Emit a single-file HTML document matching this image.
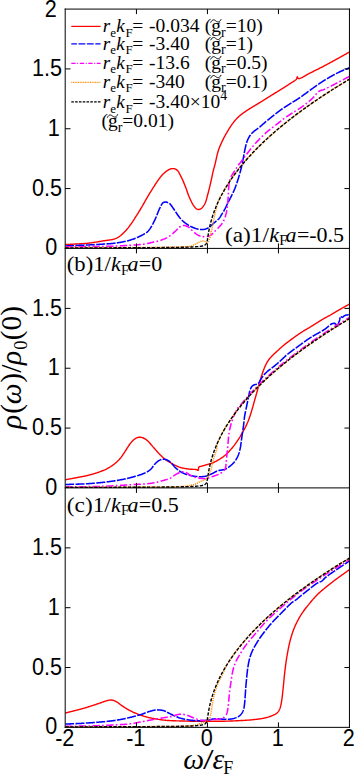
<!DOCTYPE html>
<html><head><meta charset="utf-8"><title>DOS</title>
<style>html,body{margin:0;padding:0;background:#fff;}svg{display:block;}text{font-family:"Liberation Serif",serif;fill:#000;}.s{font-family:"Liberation Sans",sans-serif;}.i{font-style:italic;}</style></head>
<body>
<svg width="354" height="776" viewBox="0 0 354 776">
<defs><clipPath id="clip_a"><rect x="65.45" y="9.08" width="284.00" height="239.62"/></clipPath><clipPath id="clip_b"><rect x="65.45" y="248.40" width="284.00" height="239.80"/></clipPath><clipPath id="clip_c"><rect x="65.45" y="487.90" width="284.00" height="239.75"/></clipPath></defs>
<rect width="354" height="776" fill="#fff"/>
<g clip-path="url(#clip_a)" fill="none" stroke-linejoin="round">
<path d="M65.00 244.60 L65.61 244.57 L66.22 244.53 L66.83 244.50 L67.43 244.47 L68.04 244.44 L68.65 244.41 L69.25 244.37 L69.86 244.34 L70.46 244.31 L71.07 244.28 L71.68 244.24 L72.29 244.21 L72.90 244.18 L73.52 244.14 L74.13 244.11 L74.75 244.07 L75.37 244.04 L76.00 244.00 L76.59 243.97 L77.19 243.93 L77.79 243.90 L78.39 243.87 L78.99 243.84 L79.59 243.81 L80.19 243.78 L80.79 243.75 L81.40 243.72 L82.01 243.68 L82.62 243.65 L83.23 243.61 L83.84 243.57 L84.46 243.53 L85.07 243.49 L85.69 243.44 L86.32 243.39 L86.94 243.33 L87.57 243.27 L88.20 243.20 L88.80 243.13 L89.40 243.06 L90.00 242.99 L90.61 242.91 L91.22 242.83 L91.83 242.74 L92.45 242.65 L93.07 242.56 L93.69 242.47 L94.31 242.37 L94.93 242.27 L95.55 242.17 L96.18 242.07 L96.80 241.97 L97.43 241.86 L98.05 241.76 L98.68 241.65 L99.30 241.54 L99.92 241.44 L100.55 241.33 L101.17 241.22 L101.78 241.11 L102.40 241.00 L103.02 240.89 L103.65 240.80 L104.28 240.70 L104.92 240.61 L105.56 240.53 L106.20 240.44 L106.85 240.36 L107.49 240.28 L108.14 240.19 L108.78 240.11 L109.43 240.01 L110.06 239.92 L110.70 239.82 L111.32 239.71 L111.94 239.59 L112.55 239.46 L113.15 239.32 L113.74 239.17 L114.32 239.00 L114.89 238.83 L115.44 238.63 L115.98 238.42 L116.50 238.19 L117.06 237.92 L117.61 237.62 L118.15 237.31 L118.67 236.97 L119.18 236.63 L119.68 236.27 L120.17 235.89 L120.65 235.51 L121.12 235.11 L121.58 234.71 L122.03 234.30 L122.48 233.89 L122.91 233.48 L123.34 233.06 L123.76 232.64 L124.18 232.23 L124.59 231.82 L125.00 231.41 L125.46 230.95 L125.91 230.47 L126.34 230.00 L126.75 229.52 L127.16 229.04 L127.55 228.56 L127.94 228.07 L128.32 227.57 L128.70 227.08 L129.08 226.57 L129.46 226.06 L129.83 225.55 L130.21 225.03 L130.60 224.50 L130.94 224.03 L131.29 223.55 L131.63 223.06 L131.97 222.57 L132.31 222.08 L132.65 221.58 L132.98 221.07 L133.32 220.56 L133.65 220.05 L133.98 219.54 L134.32 219.03 L134.65 218.51 L134.98 217.99 L135.31 217.47 L135.64 216.96 L135.97 216.44 L136.30 215.92 L136.64 215.40 L136.97 214.87 L137.30 214.34 L137.63 213.81 L137.97 213.28 L138.30 212.75 L138.63 212.21 L138.96 211.68 L139.28 211.14 L139.61 210.60 L139.94 210.06 L140.27 209.52 L140.59 208.98 L140.92 208.43 L141.25 207.88 L141.57 207.33 L141.90 206.78 L142.20 206.27 L142.50 205.75 L142.80 205.23 L143.10 204.70 L143.40 204.17 L143.70 203.64 L144.00 203.11 L144.30 202.57 L144.60 202.04 L144.90 201.50 L145.20 200.97 L145.50 200.43 L145.79 199.90 L146.09 199.37 L146.39 198.84 L146.69 198.32 L147.00 197.79 L147.30 197.28 L147.60 196.76 L147.93 196.21 L148.26 195.67 L148.59 195.12 L148.92 194.57 L149.25 194.03 L149.58 193.48 L149.91 192.94 L150.25 192.40 L150.58 191.87 L150.91 191.34 L151.24 190.81 L151.57 190.28 L151.90 189.76 L152.23 189.24 L152.55 188.72 L152.88 188.22 L153.20 187.71 L153.55 187.16 L153.90 186.62 L154.24 186.08 L154.58 185.54 L154.93 185.01 L155.27 184.48 L155.60 183.95 L155.94 183.44 L156.28 182.92 L156.62 182.41 L156.96 181.91 L157.31 181.41 L157.65 180.92 L158.00 180.43 L158.37 179.91 L158.74 179.39 L159.11 178.88 L159.48 178.37 L159.85 177.87 L160.22 177.37 L160.60 176.88 L160.98 176.40 L161.37 175.93 L161.77 175.47 L162.18 175.02 L162.60 174.58 L163.07 174.11 L163.56 173.64 L164.06 173.17 L164.57 172.72 L165.08 172.27 L165.61 171.84 L166.13 171.43 L166.66 171.04 L167.18 170.68 L167.69 170.35 L168.20 170.05 L168.82 169.72 L169.44 169.42 L170.05 169.16 L170.67 168.93 L171.28 168.76 L171.89 168.65 L172.50 168.60 L173.11 168.61 L173.73 168.66 L174.35 168.76 L174.96 168.92 L175.56 169.15 L176.15 169.44 L176.70 169.80 L177.08 170.12 L177.46 170.50 L177.81 170.93 L178.16 171.40 L178.50 171.91 L178.83 172.44 L179.15 173.01 L179.46 173.59 L179.77 174.19 L180.08 174.79 L180.39 175.39 L180.69 175.99 L181.00 176.58 L181.27 177.09 L181.53 177.61 L181.79 178.14 L182.05 178.68 L182.30 179.22 L182.55 179.78 L182.80 180.34 L183.04 180.90 L183.29 181.47 L183.53 182.05 L183.77 182.63 L184.01 183.21 L184.25 183.80 L184.48 184.38 L184.72 184.97 L184.96 185.56 L185.20 186.15 L185.42 186.69 L185.63 187.25 L185.84 187.80 L186.05 188.37 L186.26 188.94 L186.46 189.51 L186.66 190.09 L186.87 190.67 L187.07 191.25 L187.28 191.84 L187.48 192.42 L187.68 192.99 L187.89 193.57 L188.10 194.14 L188.31 194.70 L188.52 195.26 L188.73 195.81 L188.95 196.35 L189.17 196.89 L189.40 197.41 L189.67 198.01 L189.95 198.63 L190.23 199.24 L190.51 199.85 L190.80 200.46 L191.09 201.06 L191.38 201.65 L191.67 202.23 L191.96 202.80 L192.26 203.34 L192.55 203.87 L192.84 204.38 L193.13 204.86 L193.42 205.31 L193.70 205.74 L194.17 206.40 L194.63 207.01 L195.09 207.56 L195.55 208.06 L196.02 208.48 L196.50 208.84 L197.06 209.16 L197.63 209.40 L198.21 209.54 L198.80 209.56 L199.35 209.46 L199.92 209.26 L200.49 208.97 L201.05 208.61 L201.60 208.19 L202.00 207.82 L202.41 207.40 L202.81 206.94 L203.20 206.44 L203.59 205.91 L203.96 205.34 L204.33 204.75 L204.67 204.13 L205.00 203.50 L205.22 203.02 L205.44 202.53 L205.64 202.01 L205.83 201.47 L206.01 200.92 L206.19 200.35 L206.36 199.77 L206.53 199.18 L206.69 198.58 L206.85 197.98 L207.00 197.36 L207.16 196.75 L207.32 196.13 L207.47 195.52 L207.63 194.90 L207.80 194.29 L207.95 193.73 L208.11 193.16 L208.26 192.58 L208.41 192.00 L208.56 191.42 L208.71 190.83 L208.86 190.24 L209.01 189.65 L209.15 189.05 L209.30 188.45 L209.45 187.85 L209.59 187.25 L209.74 186.64 L209.88 186.03 L210.03 185.42 L210.17 184.81 L210.31 184.20 L210.46 183.59 L210.60 182.97 L210.74 182.38 L210.88 181.77 L211.01 181.15 L211.15 180.53 L211.29 179.89 L211.43 179.25 L211.57 178.61 L211.70 177.96 L211.84 177.32 L211.98 176.68 L212.11 176.04 L212.25 175.40 L212.38 174.78 L212.51 174.16 L212.64 173.55 L212.77 172.96 L212.90 172.38 L213.03 171.82 L213.15 171.28 L213.28 170.76 L213.40 170.26 L213.57 169.60 L213.73 168.99 L213.88 168.42 L214.04 167.89 L214.19 167.36 L214.34 166.84 L214.49 166.30 L214.65 165.73 L214.82 165.11 L215.00 164.43 L215.12 163.96 L215.24 163.47 L215.36 162.96 L215.48 162.43 L215.60 161.88 L215.72 161.32 L215.85 160.74 L215.97 160.15 L216.10 159.55 L216.23 158.94 L216.37 158.32 L216.50 157.70 L216.64 157.07 L216.78 156.44 L216.92 155.82 L217.07 155.19 L217.22 154.56 L217.38 153.94 L217.54 153.33 L217.70 152.72 L217.87 152.12 L218.04 151.53 L218.22 150.96 L218.40 150.40 L218.60 149.81 L218.81 149.21 L219.03 148.62 L219.25 148.03 L219.48 147.44 L219.72 146.85 L219.95 146.27 L220.20 145.69 L220.44 145.11 L220.69 144.54 L220.95 143.97 L221.20 143.41 L221.46 142.85 L221.71 142.29 L221.97 141.75 L222.23 141.20 L222.49 140.67 L222.74 140.14 L223.00 139.62 L223.25 139.11 L223.50 138.60 L223.80 138.01 L224.09 137.43 L224.39 136.87 L224.69 136.31 L224.99 135.76 L225.29 135.22 L225.59 134.68 L225.89 134.15 L226.19 133.63 L226.50 133.12 L226.80 132.60 L227.10 132.10 L227.40 131.60 L227.70 131.10 L228.00 130.60 L228.33 130.05 L228.67 129.50 L229.00 128.97 L229.32 128.43 L229.65 127.91 L229.98 127.39 L230.31 126.88 L230.65 126.37 L230.98 125.87 L231.32 125.37 L231.66 124.88 L232.00 124.40 L232.39 123.87 L232.78 123.34 L233.17 122.82 L233.57 122.31 L233.97 121.80 L234.37 121.30 L234.77 120.81 L235.18 120.33 L235.59 119.86 L236.00 119.40 L236.43 118.93 L236.86 118.48 L237.29 118.03 L237.72 117.59 L238.16 117.17 L238.60 116.74 L239.06 116.33 L239.52 115.91 L240.00 115.50 L240.47 115.11 L240.94 114.73 L241.43 114.36 L241.92 113.98 L242.42 113.62 L242.93 113.25 L243.44 112.89 L243.96 112.53 L244.48 112.16 L245.00 111.80 L245.50 111.45 L246.01 111.11 L246.51 110.77 L247.02 110.43 L247.53 110.09 L248.05 109.75 L248.58 109.41 L249.12 109.06 L249.67 108.72 L250.23 108.36 L250.80 108.00 L251.28 107.70 L251.78 107.39 L252.29 107.08 L252.81 106.77 L253.33 106.46 L253.86 106.14 L254.40 105.82 L254.95 105.50 L255.49 105.18 L256.04 104.85 L256.59 104.53 L257.14 104.20 L257.68 103.88 L258.23 103.55 L258.77 103.22 L259.30 102.90 L259.83 102.57 L260.36 102.25 L260.90 101.92 L261.43 101.59 L261.96 101.26 L262.49 100.93 L263.02 100.59 L263.55 100.26 L264.08 99.93 L264.61 99.60 L265.15 99.26 L265.68 98.93 L266.21 98.60 L266.74 98.26 L267.27 97.93 L267.80 97.60 L268.33 97.27 L268.86 96.94 L269.39 96.61 L269.93 96.27 L270.46 95.94 L270.99 95.61 L271.52 95.28 L272.05 94.95 L272.58 94.61 L273.12 94.28 L273.65 93.95 L274.18 93.62 L274.71 93.29 L275.24 92.96 L275.77 92.63 L276.30 92.30 L276.83 91.97 L277.36 91.64 L277.90 91.31 L278.43 90.98 L278.97 90.65 L279.51 90.32 L280.05 89.99 L280.58 89.66 L281.11 89.33 L281.64 89.01 L282.17 88.68 L282.69 88.36 L283.20 88.04 L283.71 87.72 L284.21 87.41 L284.70 87.10 L285.26 86.74 L285.82 86.38 L286.37 86.03 L286.92 85.67 L287.45 85.32 L287.98 84.98 L288.51 84.63 L289.02 84.29 L289.53 83.96 L290.03 83.63 L290.52 83.31 L291.00 83.00 L291.60 82.61 L292.20 82.23 L292.80 81.85 L293.38 81.48 L293.94 81.12 L294.45 80.79 L294.91 80.48 L295.30 80.20 L295.92 79.77 L296.40 79.30 L296.67 78.67 L296.87 77.84 L297.07 77.12 L297.30 76.80 L297.57 77.21 L297.87 78.03 L298.40 78.60 L298.67 78.64 L299.00 78.63 L299.36 78.57 L299.78 78.46 L300.23 78.30 L300.71 78.11 L301.23 77.87 L301.78 77.61 L302.35 77.32 L302.95 77.01 L303.56 76.67 L304.19 76.32 L304.83 75.96 L305.47 75.58 L306.13 75.21 L306.78 74.83 L307.42 74.46 L308.07 74.10 L308.70 73.75 L309.32 73.41 L309.92 73.09 L310.50 72.80 L311.02 72.54 L311.55 72.28 L312.08 72.02 L312.61 71.76 L313.15 71.50 L313.69 71.23 L314.23 70.96 L314.77 70.69 L315.31 70.43 L315.85 70.15 L316.40 69.88 L316.95 69.61 L317.49 69.34 L318.04 69.06 L318.59 68.78 L319.14 68.51 L319.69 68.23 L320.24 67.95 L320.79 67.67 L321.33 67.39 L321.88 67.11 L322.43 66.83 L322.97 66.55 L323.52 66.27 L324.06 65.98 L324.60 65.70 L325.15 65.41 L325.69 65.12 L326.24 64.83 L326.80 64.54 L327.35 64.24 L327.90 63.94 L328.46 63.64 L329.01 63.34 L329.56 63.04 L330.12 62.74 L330.67 62.43 L331.23 62.13 L331.78 61.83 L332.33 61.52 L332.87 61.22 L333.42 60.92 L333.96 60.62 L334.51 60.32 L335.04 60.02 L335.58 59.73 L336.11 59.43 L336.64 59.14 L337.16 58.85 L337.68 58.56 L338.19 58.28 L338.70 58.00 L339.27 57.68 L339.84 57.37 L340.40 57.06 L340.95 56.76 L341.50 56.45 L342.05 56.15 L342.59 55.85 L343.13 55.55 L343.66 55.25 L344.19 54.96 L344.72 54.66 L345.25 54.37 L345.78 54.07 L346.31 53.78 L346.83 53.48 L347.36 53.19 L347.89 52.89 L348.43 52.60 L348.96 52.30 L349.50 52.00" stroke="#ff0000" stroke-width="1.4"/>
<path d="M65.00 246.00 L65.61 245.97 L66.22 245.94 L66.83 245.91 L67.45 245.88 L68.07 245.85 L68.70 245.82 L69.32 245.80 L69.96 245.77 L70.59 245.74 L71.23 245.71 L71.87 245.68 L72.51 245.65 L73.15 245.62 L73.80 245.59 L74.45 245.56 L75.09 245.54 L75.74 245.51 L76.39 245.48 L77.04 245.45 L77.70 245.42 L78.35 245.39 L79.00 245.36 L79.65 245.33 L80.30 245.31 L80.95 245.28 L81.60 245.25 L82.25 245.22 L82.89 245.19 L83.54 245.16 L84.18 245.13 L84.82 245.10 L85.46 245.07 L86.09 245.05 L86.73 245.02 L87.36 244.99 L87.98 244.96 L88.61 244.93 L89.23 244.90 L89.84 244.87 L90.45 244.84 L91.06 244.81 L91.66 244.78 L92.26 244.75 L92.85 244.72 L93.44 244.69 L94.02 244.66 L94.60 244.64 L95.17 244.61 L95.73 244.58 L96.29 244.55 L96.84 244.52 L97.38 244.49 L97.92 244.46 L98.45 244.43 L98.97 244.39 L99.49 244.36 L99.99 244.33 L100.49 244.30 L100.98 244.27 L101.46 244.24 L101.94 244.21 L102.40 244.18 L103.15 244.13 L103.87 244.08 L104.57 244.04 L105.26 243.99 L105.92 243.95 L106.56 243.91 L107.19 243.87 L107.81 243.83 L108.41 243.79 L109.01 243.74 L109.59 243.70 L110.17 243.66 L110.74 243.61 L111.31 243.56 L111.87 243.51 L112.44 243.46 L113.00 243.40 L113.57 243.34 L114.14 243.27 L114.72 243.20 L115.30 243.12 L115.90 243.04 L116.50 242.96 L117.09 242.87 L117.69 242.78 L118.28 242.68 L118.88 242.59 L119.48 242.49 L120.08 242.39 L120.68 242.29 L121.28 242.18 L121.88 242.08 L122.48 241.96 L123.08 241.85 L123.68 241.73 L124.27 241.61 L124.87 241.48 L125.46 241.36 L126.05 241.22 L126.63 241.08 L127.21 240.94 L127.79 240.80 L128.36 240.65 L128.93 240.49 L129.49 240.33 L130.05 240.17 L130.60 240.00 L131.21 239.80 L131.82 239.60 L132.42 239.39 L133.03 239.17 L133.64 238.94 L134.24 238.71 L134.84 238.47 L135.44 238.22 L136.03 237.97 L136.61 237.72 L137.19 237.47 L137.76 237.21 L138.32 236.96 L138.86 236.70 L139.40 236.44 L139.93 236.19 L140.44 235.94 L140.94 235.69 L141.43 235.44 L141.90 235.20 L142.51 234.89 L143.10 234.58 L143.67 234.28 L144.22 233.99 L144.75 233.69 L145.26 233.39 L145.76 233.08 L146.24 232.76 L146.71 232.42 L147.16 232.06 L147.60 231.68 L148.04 231.25 L148.45 230.81 L148.85 230.36 L149.22 229.89 L149.57 229.40 L149.92 228.90 L150.26 228.39 L150.60 227.85 L150.95 227.30 L151.30 226.74 L151.59 226.26 L151.88 225.76 L152.17 225.25 L152.45 224.73 L152.74 224.20 L153.02 223.65 L153.30 223.10 L153.58 222.53 L153.86 221.96 L154.13 221.39 L154.41 220.81 L154.68 220.22 L154.96 219.63 L155.23 219.05 L155.50 218.46 L155.75 217.91 L155.99 217.35 L156.23 216.78 L156.47 216.19 L156.71 215.59 L156.95 214.99 L157.19 214.39 L157.42 213.78 L157.66 213.17 L157.89 212.57 L158.13 211.97 L158.37 211.38 L158.60 210.81 L158.84 210.24 L159.08 209.69 L159.32 209.16 L159.56 208.65 L159.80 208.16 L160.13 207.50 L160.45 206.84 L160.77 206.18 L161.09 205.53 L161.42 204.92 L161.75 204.34 L162.09 203.81 L162.44 203.34 L162.81 202.95 L163.20 202.63 L163.78 202.32 L164.40 202.14 L165.03 202.05 L165.67 202.05 L166.30 202.11 L166.87 202.22 L167.44 202.40 L168.02 202.63 L168.59 202.93 L169.15 203.29 L169.70 203.70 L170.10 204.06 L170.50 204.47 L170.89 204.93 L171.27 205.43 L171.65 205.96 L172.03 206.51 L172.40 207.07 L172.78 207.64 L173.15 208.20 L173.53 208.76 L173.90 209.30 L174.25 209.80 L174.60 210.32 L174.95 210.84 L175.30 211.37 L175.64 211.90 L175.99 212.43 L176.33 212.95 L176.68 213.48 L177.03 214.00 L177.38 214.51 L177.74 215.01 L178.10 215.50 L178.47 215.99 L178.85 216.48 L179.22 216.97 L179.59 217.45 L179.97 217.92 L180.35 218.38 L180.74 218.84 L181.14 219.29 L181.55 219.74 L181.97 220.17 L182.40 220.60 L182.86 221.03 L183.34 221.46 L183.83 221.88 L184.33 222.29 L184.84 222.70 L185.36 223.09 L185.88 223.48 L186.41 223.85 L186.94 224.21 L187.47 224.56 L188.00 224.90 L188.55 225.24 L189.11 225.56 L189.68 225.87 L190.25 226.17 L190.82 226.45 L191.39 226.73 L191.97 226.99 L192.54 227.24 L193.12 227.49 L193.70 227.72 L194.32 227.96 L194.93 228.19 L195.55 228.42 L196.17 228.63 L196.79 228.83 L197.42 229.00 L198.04 229.16 L198.67 229.29 L199.30 229.38 L199.93 229.45 L200.58 229.51 L201.23 229.54 L201.88 229.54 L202.53 229.53 L203.18 229.49 L203.80 229.42 L204.41 229.32 L205.00 229.20 L205.65 229.02 L206.28 228.79 L206.88 228.53 L207.47 228.24 L208.05 227.92 L208.63 227.57 L209.20 227.20 L209.68 226.86 L210.15 226.50 L210.61 226.11 L211.06 225.70 L211.51 225.27 L211.97 224.84 L212.43 224.39 L212.91 223.95 L213.40 223.50 L213.85 223.11 L214.33 222.71 L214.82 222.30 L215.33 221.88 L215.84 221.46 L216.35 221.03 L216.86 220.60 L217.36 220.17 L217.83 219.74 L218.29 219.30 L218.71 218.87 L219.10 218.43 L219.53 217.89 L219.92 217.35 L220.28 216.81 L220.61 216.26 L220.93 215.71 L221.24 215.16 L221.56 214.60 L221.90 214.04 L222.21 213.54 L222.53 213.05 L222.84 212.55 L223.15 212.06 L223.46 211.55 L223.77 211.04 L224.08 210.52 L224.39 209.98 L224.70 209.42 L224.97 208.91 L225.25 208.38 L225.52 207.84 L225.79 207.29 L226.06 206.73 L226.33 206.16 L226.60 205.58 L226.87 205.00 L227.15 204.42 L227.43 203.83 L227.71 203.25 L228.00 202.67 L228.27 202.13 L228.54 201.59 L228.83 201.04 L229.11 200.49 L229.40 199.93 L229.69 199.37 L229.98 198.81 L230.27 198.25 L230.56 197.70 L230.84 197.15 L231.12 196.60 L231.39 196.07 L231.65 195.55 L231.90 195.03 L232.19 194.44 L232.47 193.87 L232.74 193.31 L233.00 192.75 L233.26 192.21 L233.51 191.66 L233.76 191.11 L234.01 190.55 L234.25 189.99 L234.50 189.40 L234.72 188.86 L234.94 188.32 L235.15 187.77 L235.36 187.22 L235.57 186.66 L235.78 186.10 L235.98 185.53 L236.19 184.95 L236.39 184.37 L236.59 183.79 L236.80 183.20 L237.00 182.60 L237.19 182.03 L237.38 181.45 L237.58 180.86 L237.77 180.27 L237.96 179.67 L238.15 179.07 L238.34 178.47 L238.52 177.86 L238.71 177.25 L238.89 176.64 L239.07 176.02 L239.25 175.41 L239.43 174.81 L239.60 174.20 L239.77 173.60 L239.94 173.00 L240.10 172.40 L240.27 171.80 L240.43 171.21 L240.59 170.61 L240.75 170.01 L240.90 169.41 L241.06 168.80 L241.21 168.19 L241.36 167.58 L241.51 166.96 L241.65 166.33 L241.80 165.70 L241.93 165.12 L242.05 164.54 L242.18 163.95 L242.30 163.35 L242.42 162.74 L242.54 162.14 L242.66 161.52 L242.78 160.91 L242.89 160.30 L243.01 159.68 L243.12 159.07 L243.23 158.46 L243.35 157.86 L243.46 157.26 L243.57 156.66 L243.69 156.08 L243.80 155.50 L243.92 154.87 L244.05 154.23 L244.17 153.60 L244.28 152.97 L244.40 152.34 L244.52 151.72 L244.64 151.10 L244.75 150.49 L244.87 149.88 L244.99 149.29 L245.11 148.70 L245.24 148.12 L245.37 147.56 L245.50 147.00 L245.66 146.36 L245.81 145.74 L245.96 145.13 L246.12 144.53 L246.28 143.94 L246.44 143.36 L246.61 142.79 L246.80 142.22 L246.99 141.66 L247.20 141.10 L247.43 140.50 L247.68 139.91 L247.93 139.32 L248.19 138.74 L248.47 138.16 L248.75 137.60 L249.06 137.05 L249.37 136.52 L249.70 136.00 L250.07 135.47 L250.45 134.96 L250.84 134.46 L251.25 133.98 L251.68 133.51 L252.13 133.04 L252.60 132.58 L253.10 132.10 L253.53 131.72 L253.98 131.34 L254.46 130.96 L254.95 130.59 L255.46 130.22 L255.98 129.84 L256.51 129.47 L257.04 129.09 L257.57 128.72 L258.09 128.33 L258.60 127.94 L259.10 127.55 L259.56 127.17 L260.01 126.79 L260.45 126.40 L260.89 126.02 L261.33 125.63 L261.77 125.23 L262.21 124.84 L262.66 124.44 L263.11 124.04 L263.56 123.63 L264.03 123.22 L264.51 122.81 L265.00 122.39 L265.43 122.03 L265.86 121.67 L266.31 121.30 L266.76 120.93 L267.21 120.56 L267.68 120.18 L268.14 119.80 L268.62 119.41 L269.09 119.03 L269.57 118.64 L270.05 118.26 L270.53 117.87 L271.01 117.49 L271.49 117.11 L271.97 116.73 L272.45 116.35 L272.93 115.97 L273.40 115.60 L273.90 115.21 L274.39 114.82 L274.89 114.43 L275.39 114.03 L275.88 113.64 L276.38 113.25 L276.88 112.86 L277.38 112.47 L277.88 112.09 L278.38 111.70 L278.88 111.32 L279.38 110.94 L279.88 110.56 L280.38 110.19 L280.89 109.82 L281.39 109.46 L281.90 109.10 L282.42 108.73 L282.95 108.38 L283.47 108.02 L284.00 107.67 L284.52 107.33 L285.05 106.99 L285.57 106.65 L286.10 106.31 L286.63 105.98 L287.16 105.64 L287.70 105.31 L288.23 104.97 L288.77 104.63 L289.31 104.29 L289.85 103.95 L290.40 103.60 L290.92 103.27 L291.44 102.94 L291.96 102.61 L292.49 102.29 L293.02 101.96 L293.55 101.63 L294.08 101.30 L294.61 100.97 L295.15 100.64 L295.68 100.31 L296.22 99.97 L296.76 99.63 L297.30 99.29 L297.84 98.94 L298.38 98.59 L298.92 98.24 L299.46 97.88 L300.00 97.52 L300.49 97.18 L300.98 96.84 L301.47 96.50 L301.96 96.15 L302.45 95.80 L302.93 95.44 L303.42 95.09 L303.91 94.73 L304.40 94.37 L304.89 94.01 L305.38 93.64 L305.87 93.27 L306.37 92.90 L306.87 92.53 L307.37 92.16 L307.88 91.78 L308.39 91.41 L308.91 91.03 L309.43 90.65 L309.96 90.27 L310.50 89.89 L310.97 89.56 L311.44 89.22 L311.92 88.88 L312.40 88.54 L312.88 88.19 L313.37 87.85 L313.86 87.49 L314.36 87.14 L314.86 86.78 L315.36 86.43 L315.86 86.07 L316.37 85.71 L316.88 85.35 L317.39 84.99 L317.90 84.64 L318.41 84.28 L318.93 83.92 L319.44 83.57 L319.96 83.21 L320.48 82.86 L320.99 82.52 L321.51 82.17 L322.03 81.83 L322.54 81.49 L323.06 81.16 L323.57 80.83 L324.09 80.50 L324.60 80.18 L325.14 79.85 L325.68 79.52 L326.22 79.19 L326.76 78.87 L327.31 78.54 L327.86 78.22 L328.41 77.89 L328.96 77.57 L329.51 77.25 L330.06 76.94 L330.62 76.62 L331.17 76.31 L331.72 76.01 L332.27 75.70 L332.82 75.40 L333.37 75.10 L333.92 74.81 L334.46 74.52 L335.00 74.23 L335.54 73.95 L336.08 73.67 L336.61 73.40 L337.14 73.13 L337.66 72.87 L338.18 72.61 L338.70 72.36 L339.29 72.07 L339.88 71.80 L340.47 71.53 L341.05 71.27 L341.62 71.02 L342.19 70.78 L342.76 70.54 L343.33 70.30 L343.89 70.07 L344.45 69.84 L345.01 69.62 L345.57 69.40 L346.13 69.17 L346.69 68.95 L347.25 68.73 L347.81 68.50 L348.37 68.27 L348.93 68.04 L349.50 67.80" stroke="#0000ff" stroke-width="1.55" stroke-dasharray="9.0 1.4"/>
<path d="M65.00 246.90 L65.61 246.89 L66.22 246.88 L66.83 246.87 L67.44 246.86 L68.05 246.85 L68.67 246.84 L69.29 246.83 L69.91 246.82 L70.53 246.82 L71.15 246.81 L71.78 246.80 L72.40 246.79 L73.03 246.78 L73.66 246.78 L74.29 246.77 L74.92 246.76 L75.55 246.75 L76.18 246.75 L76.81 246.74 L77.44 246.73 L78.08 246.73 L78.71 246.72 L79.35 246.71 L79.98 246.71 L80.62 246.70 L81.25 246.69 L81.89 246.69 L82.53 246.68 L83.16 246.67 L83.80 246.67 L84.43 246.66 L85.07 246.65 L85.71 246.65 L86.34 246.64 L86.98 246.63 L87.61 246.63 L88.24 246.62 L88.88 246.61 L89.51 246.60 L90.14 246.60 L90.77 246.59 L91.40 246.58 L92.03 246.58 L92.66 246.57 L93.28 246.56 L93.91 246.55 L94.53 246.54 L95.15 246.54 L95.77 246.53 L96.39 246.52 L97.01 246.51 L97.63 246.50 L98.24 246.49 L98.85 246.48 L99.46 246.47 L100.07 246.46 L100.68 246.45 L101.28 246.44 L101.88 246.43 L102.48 246.42 L103.08 246.40 L103.68 246.39 L104.27 246.38 L104.86 246.37 L105.44 246.35 L106.03 246.34 L106.61 246.33 L107.19 246.31 L107.76 246.30 L108.34 246.28 L108.90 246.27 L109.47 246.25 L110.03 246.23 L110.59 246.22 L111.15 246.20 L111.70 246.18 L112.25 246.16 L112.79 246.15 L113.34 246.13 L113.87 246.11 L114.41 246.09 L114.94 246.07 L115.46 246.04 L115.98 246.02 L116.50 246.00 L117.19 245.97 L117.88 245.94 L118.57 245.91 L119.27 245.87 L119.96 245.84 L120.65 245.81 L121.34 245.77 L122.03 245.74 L122.72 245.71 L123.41 245.67 L124.10 245.63 L124.78 245.60 L125.46 245.56 L126.14 245.52 L126.81 245.49 L127.48 245.45 L128.15 245.41 L128.81 245.37 L129.47 245.33 L130.12 245.29 L130.77 245.25 L131.41 245.21 L132.05 245.16 L132.68 245.12 L133.30 245.08 L133.92 245.04 L134.53 244.99 L135.13 244.95 L135.72 244.90 L136.31 244.86 L136.89 244.81 L137.45 244.76 L138.01 244.72 L138.56 244.67 L139.10 244.62 L139.63 244.57 L140.15 244.52 L140.66 244.47 L141.16 244.42 L141.64 244.37 L142.12 244.32 L142.58 244.27 L143.03 244.22 L143.47 244.16 L143.89 244.11 L144.30 244.05 L144.70 244.00 L145.47 243.88 L146.18 243.77 L146.82 243.65 L147.41 243.53 L147.97 243.40 L148.51 243.27 L149.04 243.15 L149.57 243.01 L150.11 242.88 L150.69 242.74 L151.30 242.60 L151.88 242.47 L152.46 242.35 L153.06 242.23 L153.66 242.10 L154.27 241.98 L154.88 241.85 L155.50 241.72 L156.12 241.58 L156.74 241.44 L157.36 241.29 L157.98 241.14 L158.59 240.97 L159.20 240.79 L159.80 240.60 L160.37 240.41 L160.94 240.22 L161.52 240.01 L162.10 239.81 L162.67 239.60 L163.24 239.38 L163.82 239.15 L164.38 238.91 L164.95 238.67 L165.51 238.42 L166.06 238.15 L166.61 237.88 L167.15 237.60 L167.68 237.31 L168.20 237.00 L168.72 236.68 L169.23 236.34 L169.74 235.98 L170.24 235.61 L170.74 235.22 L171.23 234.83 L171.72 234.43 L172.20 234.02 L172.67 233.62 L173.13 233.21 L173.59 232.81 L174.03 232.41 L174.47 232.02 L174.89 231.64 L175.30 231.27 L175.82 230.78 L176.31 230.28 L176.77 229.78 L177.22 229.28 L177.66 228.80 L178.10 228.34 L178.55 227.90 L179.01 227.51 L179.50 227.15 L180.09 226.78 L180.69 226.43 L181.31 226.11 L181.93 225.83 L182.56 225.61 L183.18 225.47 L183.80 225.40 L184.40 225.42 L185.01 225.52 L185.62 225.69 L186.23 225.92 L186.83 226.18 L187.42 226.48 L188.00 226.80 L188.50 227.11 L188.99 227.47 L189.47 227.87 L189.95 228.29 L190.42 228.73 L190.89 229.18 L191.36 229.63 L191.83 230.08 L192.30 230.50 L192.77 230.92 L193.23 231.35 L193.69 231.79 L194.15 232.23 L194.61 232.66 L195.07 233.08 L195.54 233.48 L196.02 233.86 L196.50 234.20 L197.07 234.57 L197.65 234.91 L198.23 235.23 L198.82 235.52 L199.42 235.78 L200.05 236.01 L200.70 236.20 L201.29 236.34 L201.91 236.46 L202.55 236.55 L203.21 236.62 L203.87 236.66 L204.53 236.69 L205.18 236.68 L205.80 236.65 L206.40 236.60 L207.04 236.51 L207.67 236.40 L208.28 236.26 L208.87 236.08 L209.46 235.87 L210.03 235.61 L210.60 235.30 L211.11 234.97 L211.60 234.58 L212.08 234.14 L212.56 233.67 L213.03 233.18 L213.50 232.68 L213.96 232.17 L214.43 231.68 L214.90 231.20 L215.37 230.74 L215.85 230.29 L216.32 229.84 L216.79 229.39 L217.26 228.93 L217.73 228.47 L218.19 227.99 L218.65 227.51 L219.10 227.00 L219.50 226.54 L219.91 226.08 L220.31 225.62 L220.72 225.15 L221.12 224.66 L221.51 224.17 L221.90 223.67 L222.27 223.15 L222.63 222.62 L222.98 222.07 L223.30 221.50 L223.57 220.98 L223.83 220.45 L224.08 219.90 L224.31 219.34 L224.54 218.76 L224.76 218.17 L224.96 217.58 L225.16 216.98 L225.36 216.37 L225.54 215.76 L225.71 215.14 L225.88 214.53 L226.04 213.91 L226.20 213.30 L226.34 212.70 L226.47 212.10 L226.60 211.49 L226.71 210.87 L226.81 210.25 L226.91 209.63 L227.00 209.01 L227.09 208.38 L227.17 207.75 L227.25 207.12 L227.32 206.49 L227.39 205.87 L227.46 205.24 L227.53 204.62 L227.60 204.00 L227.67 203.39 L227.73 202.79 L227.79 202.18 L227.84 201.57 L227.89 200.96 L227.94 200.35 L227.99 199.74 L228.03 199.13 L228.07 198.53 L228.11 197.93 L228.15 197.33 L228.19 196.74 L228.23 196.15 L228.26 195.57 L228.30 195.00 L228.34 194.36 L228.37 193.73 L228.41 193.10 L228.43 192.48 L228.46 191.86 L228.49 191.25 L228.52 190.65 L228.55 190.05 L228.58 189.45 L228.61 188.86 L228.65 188.28 L228.70 187.70 L228.76 187.01 L228.81 186.33 L228.87 185.67 L228.93 185.00 L228.99 184.35 L229.07 183.70 L229.16 183.06 L229.27 182.43 L229.40 181.80 L229.56 181.13 L229.73 180.47 L229.92 179.82 L230.13 179.17 L230.35 178.54 L230.59 177.91 L230.84 177.30 L231.10 176.70 L231.36 176.15 L231.64 175.63 L231.93 175.13 L232.23 174.63 L232.55 174.13 L232.88 173.62 L233.23 173.08 L233.60 172.50 L233.88 172.05 L234.18 171.58 L234.49 171.09 L234.82 170.59 L235.15 170.07 L235.49 169.55 L235.84 169.01 L236.19 168.48 L236.55 167.94 L236.91 167.40 L237.27 166.86 L237.63 166.33 L237.99 165.81 L238.35 165.30 L238.70 164.80 L239.06 164.30 L239.42 163.81 L239.78 163.32 L240.14 162.84 L240.51 162.36 L240.87 161.89 L241.24 161.41 L241.60 160.94 L241.97 160.47 L242.34 160.00 L242.70 159.53 L243.07 159.06 L243.44 158.58 L243.80 158.10 L244.16 157.62 L244.53 157.13 L244.89 156.64 L245.26 156.15 L245.62 155.66 L245.98 155.17 L246.34 154.68 L246.71 154.19 L247.07 153.71 L247.43 153.22 L247.80 152.74 L248.17 152.25 L248.53 151.78 L248.90 151.30 L249.29 150.81 L249.67 150.31 L250.05 149.83 L250.43 149.34 L250.81 148.86 L251.19 148.38 L251.57 147.90 L251.96 147.42 L252.35 146.94 L252.75 146.46 L253.16 145.98 L253.58 145.49 L254.00 145.00 L254.39 144.55 L254.79 144.10 L255.20 143.65 L255.61 143.19 L256.03 142.73 L256.45 142.27 L256.88 141.81 L257.31 141.35 L257.75 140.89 L258.18 140.43 L258.62 139.97 L259.06 139.52 L259.50 139.07 L259.93 138.62 L260.37 138.18 L260.80 137.75 L261.24 137.31 L261.68 136.87 L262.11 136.44 L262.54 136.02 L262.98 135.60 L263.41 135.18 L263.84 134.76 L264.28 134.34 L264.72 133.93 L265.17 133.52 L265.62 133.11 L266.08 132.69 L266.54 132.28 L267.02 131.87 L267.50 131.45 L267.95 131.07 L268.41 130.69 L268.88 130.30 L269.36 129.92 L269.84 129.54 L270.33 129.16 L270.82 128.78 L271.32 128.40 L271.82 128.02 L272.32 127.64 L272.82 127.26 L273.33 126.88 L273.83 126.51 L274.33 126.13 L274.83 125.75 L275.32 125.38 L275.81 125.00 L276.30 124.62 L276.80 124.24 L277.30 123.85 L277.79 123.46 L278.28 123.06 L278.78 122.67 L279.27 122.28 L279.76 121.89 L280.25 121.50 L280.74 121.11 L281.23 120.73 L281.72 120.34 L282.22 119.96 L282.71 119.58 L283.20 119.21 L283.70 118.83 L284.20 118.46 L284.70 118.10 L285.19 117.74 L285.69 117.39 L286.20 117.04 L286.70 116.69 L287.21 116.34 L287.72 116.00 L288.22 115.65 L288.73 115.31 L289.24 114.98 L289.75 114.64 L290.25 114.31 L290.75 113.98 L291.25 113.66 L291.75 113.34 L292.24 113.02 L292.72 112.71 L293.20 112.40 L293.74 112.06 L294.27 111.73 L294.79 111.41 L295.30 111.11 L295.81 110.81 L296.31 110.51 L296.82 110.21 L297.33 109.91 L297.84 109.60 L298.36 109.28 L298.89 108.94 L299.44 108.58 L300.00 108.20 L300.44 107.89 L300.90 107.57 L301.37 107.24 L301.85 106.89 L302.35 106.54 L302.85 106.17 L303.36 105.80 L303.87 105.42 L304.39 105.03 L304.91 104.64 L305.42 104.25 L305.94 103.86 L306.45 103.46 L306.95 103.07 L307.44 102.68 L307.93 102.30 L308.40 101.92 L308.85 101.55 L309.29 101.18 L309.72 100.83 L310.12 100.48 L310.50 100.15 L311.05 99.66 L311.57 99.18 L312.06 98.71 L312.53 98.24 L312.98 97.79 L313.41 97.34 L313.83 96.90 L314.23 96.46 L314.62 96.03 L315.00 95.60 L315.42 95.09 L315.80 94.58 L316.16 94.07 L316.51 93.57 L316.86 93.10 L317.22 92.67 L317.60 92.29 L318.16 91.83 L318.73 91.46 L319.33 91.13 L320.00 90.80 L320.48 90.59 L320.98 90.41 L321.50 90.24 L322.05 90.08 L322.63 89.90 L323.25 89.71 L323.90 89.48 L324.60 89.20 L325.01 89.02 L325.44 88.83 L325.90 88.62 L326.38 88.40 L326.87 88.17 L327.38 87.92 L327.91 87.66 L328.45 87.40 L329.00 87.12 L329.57 86.84 L330.14 86.55 L330.72 86.25 L331.30 85.95 L331.89 85.65 L332.49 85.35 L333.08 85.04 L333.67 84.73 L334.26 84.42 L334.85 84.12 L335.43 83.81 L336.00 83.51 L336.56 83.22 L337.12 82.93 L337.66 82.64 L338.19 82.37 L338.70 82.10 L339.27 81.80 L339.84 81.50 L340.40 81.21 L340.96 80.91 L341.51 80.62 L342.05 80.33 L342.59 80.04 L343.13 79.75 L343.66 79.46 L344.20 79.17 L344.72 78.89 L345.25 78.60 L345.78 78.31 L346.31 78.03 L346.84 77.74 L347.36 77.45 L347.89 77.17 L348.43 76.88 L348.96 76.59 L349.50 76.30" stroke="#ff00ff" stroke-width="1.55" stroke-dasharray="7.4 2.2 1.7 2.4"/>
<path d="M65.00 247.60 L65.60 247.60 L66.21 247.60 L66.82 247.60 L67.43 247.59 L68.04 247.59 L68.65 247.59 L69.27 247.59 L69.89 247.59 L70.51 247.59 L71.13 247.59 L71.75 247.59 L72.38 247.59 L73.00 247.58 L73.63 247.58 L74.26 247.58 L74.89 247.58 L75.52 247.58 L76.16 247.58 L76.79 247.58 L77.43 247.58 L78.07 247.58 L78.71 247.58 L79.35 247.58 L79.99 247.58 L80.63 247.57 L81.27 247.57 L81.92 247.57 L82.56 247.57 L83.21 247.57 L83.86 247.57 L84.50 247.57 L85.15 247.57 L85.80 247.57 L86.45 247.57 L87.10 247.57 L87.75 247.57 L88.40 247.57 L89.06 247.57 L89.71 247.57 L90.36 247.57 L91.01 247.57 L91.67 247.57 L92.32 247.57 L92.97 247.56 L93.63 247.56 L94.28 247.56 L94.94 247.56 L95.59 247.56 L96.24 247.56 L96.90 247.56 L97.55 247.56 L98.21 247.56 L98.86 247.56 L99.51 247.56 L100.16 247.56 L100.82 247.56 L101.47 247.56 L102.12 247.56 L102.77 247.56 L103.42 247.56 L104.07 247.56 L104.72 247.56 L105.37 247.56 L106.02 247.55 L106.66 247.55 L107.31 247.55 L107.96 247.55 L108.60 247.55 L109.24 247.55 L109.88 247.55 L110.53 247.55 L111.17 247.55 L111.81 247.55 L112.44 247.55 L113.08 247.55 L113.71 247.55 L114.35 247.55 L114.98 247.54 L115.61 247.54 L116.24 247.54 L116.87 247.54 L117.50 247.54 L118.12 247.54 L118.74 247.54 L119.37 247.54 L119.99 247.54 L120.60 247.54 L121.22 247.53 L121.83 247.53 L122.45 247.53 L123.06 247.53 L123.66 247.53 L124.27 247.53 L124.87 247.53 L125.48 247.52 L126.07 247.52 L126.67 247.52 L127.27 247.52 L127.86 247.52 L128.45 247.52 L129.04 247.52 L129.62 247.51 L130.21 247.51 L130.79 247.51 L131.36 247.51 L131.94 247.51 L132.51 247.50 L133.08 247.50 L133.64 247.50 L134.21 247.50 L134.77 247.50 L135.33 247.49 L135.88 247.49 L136.43 247.49 L136.98 247.49 L137.53 247.48 L138.07 247.48 L138.61 247.48 L139.14 247.48 L139.68 247.47 L140.20 247.47 L140.73 247.47 L141.25 247.46 L141.77 247.46 L142.29 247.46 L142.80 247.46 L143.30 247.45 L143.81 247.45 L144.31 247.45 L144.80 247.44 L145.30 247.44 L145.79 247.44 L146.27 247.43 L146.75 247.43 L147.23 247.42 L147.70 247.42 L148.17 247.42 L148.63 247.41 L149.09 247.41 L149.55 247.40 L150.00 247.40 L150.75 247.39 L151.49 247.39 L152.23 247.38 L152.96 247.37 L153.69 247.36 L154.41 247.36 L155.13 247.35 L155.84 247.34 L156.54 247.34 L157.24 247.33 L157.93 247.32 L158.61 247.31 L159.29 247.31 L159.96 247.30 L160.63 247.29 L161.29 247.28 L161.95 247.28 L162.59 247.27 L163.24 247.26 L163.87 247.25 L164.50 247.24 L165.13 247.24 L165.74 247.23 L166.36 247.22 L166.96 247.21 L167.56 247.20 L168.15 247.19 L168.74 247.18 L169.32 247.17 L169.89 247.16 L170.46 247.15 L171.02 247.14 L171.57 247.13 L172.12 247.12 L172.66 247.11 L173.20 247.10 L173.73 247.09 L174.25 247.07 L174.77 247.06 L175.27 247.05 L175.78 247.04 L176.27 247.02 L176.76 247.01 L177.24 246.99 L177.72 246.98 L178.19 246.96 L178.65 246.95 L179.11 246.93 L179.56 246.92 L180.00 246.90 L180.78 246.87 L181.54 246.85 L182.27 246.83 L182.97 246.82 L183.66 246.80 L184.33 246.79 L184.97 246.77 L185.59 246.75 L186.20 246.73 L186.79 246.70 L187.36 246.66 L187.92 246.61 L188.46 246.55 L188.98 246.48 L189.50 246.40 L190.00 246.30 L190.66 246.14 L191.27 245.96 L191.84 245.76 L192.38 245.54 L192.91 245.32 L193.43 245.08 L193.96 244.84 L194.50 244.60 L195.07 244.34 L195.64 244.07 L196.22 243.78 L196.79 243.49 L197.36 243.20 L197.92 242.92 L198.47 242.65 L199.00 242.40 L199.60 242.12 L200.19 241.83 L200.76 241.55 L201.32 241.30 L201.87 241.11 L202.40 241.00 L203.20 240.97 L203.96 241.09 L204.70 241.30 L205.27 241.63 L205.83 242.10 L206.38 242.49 L206.90 242.60 L207.32 242.40 L207.73 242.01 L208.13 241.48 L208.51 240.85 L208.87 240.17 L209.20 239.50 L209.42 239.00 L209.62 238.47 L209.80 237.90 L209.97 237.30 L210.13 236.69 L210.28 236.05 L210.42 235.40 L210.56 234.75 L210.71 234.09 L210.85 233.44 L211.00 232.80 L211.14 232.22 L211.28 231.62 L211.41 231.03 L211.55 230.42 L211.68 229.81 L211.81 229.20 L211.94 228.59 L212.07 227.97 L212.19 227.36 L212.32 226.74 L212.45 226.13 L212.57 225.51 L212.70 224.90 L212.83 224.29 L212.95 223.68 L213.07 223.07 L213.19 222.46 L213.30 221.85 L213.42 221.24 L213.54 220.62 L213.66 220.01 L213.78 219.40 L213.90 218.78 L214.03 218.16 L214.16 217.53 L214.30 216.90 L214.43 216.31 L214.57 215.72 L214.70 215.12 L214.84 214.52 L214.99 213.91 L215.13 213.30 L215.28 212.70 L215.43 212.09 L215.58 211.48 L215.73 210.87 L215.88 210.27 L216.04 209.67 L216.19 209.07 L216.35 208.48 L216.50 207.90 L216.67 207.27 L216.83 206.63 L216.99 205.99 L217.16 205.35 L217.32 204.72 L217.48 204.09 L217.65 203.46 L217.83 202.85 L218.00 202.25 L218.19 201.66 L218.38 201.09 L218.59 200.53 L218.80 200.00 L219.07 199.40 L219.35 198.83 L219.65 198.29 L219.95 197.76 L220.26 197.25 L220.57 196.74 L220.89 196.24 L221.20 195.73 L221.50 195.20 L223.45 191.58 L225.45 188.14 L227.45 184.88 L229.45 181.78 L231.45 178.82 L233.45 175.98 L235.45 173.25 L237.45 170.61 L239.45 168.06 L241.45 165.59 L243.45 163.19 L245.45 160.85 L247.45 158.58 L249.45 156.36 L251.45 154.20 L253.45 152.08 L255.45 150.01 L257.45 147.98 L259.45 145.99 L261.45 144.04 L263.45 142.13 L265.45 140.25 L267.45 138.40 L269.45 136.58 L271.45 134.79 L273.45 133.03 L275.45 131.29 L277.45 129.58 L279.45 127.90 L281.45 126.24 L283.45 124.60 L285.45 122.98 L287.45 121.38 L289.45 119.80 L291.45 118.24 L293.45 116.70 L295.45 115.18 L297.45 113.68 L299.45 112.19 L301.45 110.71 L303.45 109.26 L305.45 107.82 L307.45 106.39 L309.45 104.98 L311.45 103.58 L313.45 102.19 L315.45 100.82 L317.45 99.46 L319.45 98.11 L321.45 96.77 L323.45 95.45 L325.45 94.14 L327.45 92.83 L329.45 91.54 L331.45 90.26 L333.45 88.99 L335.45 87.73 L337.45 86.48 L339.45 85.24 L341.45 84.01 L343.45 82.79 L345.45 81.58 L347.45 80.37 L349.45 79.17 L349.45 79.17" stroke="#ff8c00" stroke-width="1.5" stroke-dasharray="1.1 1.0"/>
<path d="M65.45 247.93 L67.45 247.93 L69.45 247.93 L71.45 247.92 L73.45 247.92 L75.45 247.92 L77.45 247.91 L79.45 247.91 L81.45 247.91 L83.45 247.90 L85.45 247.90 L87.45 247.89 L89.45 247.89 L91.45 247.89 L93.45 247.88 L95.45 247.88 L97.45 247.87 L99.45 247.87 L101.45 247.86 L103.45 247.86 L105.45 247.85 L107.45 247.85 L109.45 247.84 L111.45 247.83 L113.45 247.83 L115.45 247.82 L117.45 247.82 L119.45 247.81 L121.45 247.80 L123.45 247.79 L125.45 247.79 L127.45 247.78 L129.45 247.77 L131.45 247.76 L133.45 247.76 L135.45 247.75 L137.45 247.74 L139.45 247.73 L141.45 247.72 L143.45 247.71 L145.45 247.70 L147.45 247.68 L149.45 247.67 L151.45 247.66 L153.45 247.65 L155.45 247.63 L157.45 247.62 L159.45 247.60 L161.45 247.58 L163.45 247.56 L165.45 247.54 L167.45 247.52 L169.45 247.50 L171.45 247.48 L173.45 247.45 L175.45 247.42 L177.45 247.39 L179.45 247.35 L181.45 247.31 L183.45 247.27 L185.45 247.22 L187.45 247.16 L189.45 247.09 L191.45 247.01 L193.45 246.92 L195.45 246.80 L197.45 246.65 L197.85 246.61 L198.25 246.57 L198.65 246.53 L199.05 246.49 L199.45 246.44 L199.85 246.39 L200.25 246.34 L200.65 246.28 L201.05 246.21 L201.45 246.14 L201.85 246.06 L202.25 245.97 L202.65 245.88 L203.05 245.77 L203.45 245.64 L203.85 245.49 L204.25 245.32 L204.65 245.12 L205.05 244.87 L205.45 244.55 L205.85 244.13 L206.25 243.57 L206.65 242.74 L207.05 241.46 L207.45 239.53 L207.85 237.05 L208.25 234.49 L208.65 232.11 L209.05 229.94 L209.45 227.95 L209.85 226.12 L210.25 224.41 L210.65 222.81 L211.05 221.30 L211.45 219.86 L211.85 218.50 L212.25 217.18 L212.65 215.93 L213.05 214.71 L213.45 213.54 L213.85 212.41 L214.25 211.31 L214.65 210.24 L215.05 209.20 L215.45 208.19 L215.85 207.20 L216.25 206.23 L216.65 205.29 L217.05 204.36 L217.45 203.46 L217.85 202.57 L218.25 201.70 L218.65 200.85 L219.05 200.01 L219.45 199.18 L221.45 195.24 L223.45 191.58 L225.45 188.14 L227.45 184.88 L229.45 181.78 L231.45 178.82 L233.45 175.98 L235.45 173.25 L237.45 170.61 L239.45 168.06 L241.45 165.59 L243.45 163.19 L245.45 160.85 L247.45 158.58 L249.45 156.36 L251.45 154.20 L253.45 152.08 L255.45 150.01 L257.45 147.98 L259.45 145.99 L261.45 144.04 L263.45 142.13 L265.45 140.25 L267.45 138.40 L269.45 136.58 L271.45 134.79 L273.45 133.03 L275.45 131.29 L277.45 129.58 L279.45 127.90 L281.45 126.24 L283.45 124.60 L285.45 122.98 L287.45 121.38 L289.45 119.80 L291.45 118.24 L293.45 116.70 L295.45 115.18 L297.45 113.68 L299.45 112.19 L301.45 110.71 L303.45 109.26 L305.45 107.82 L307.45 106.39 L309.45 104.98 L311.45 103.58 L313.45 102.19 L315.45 100.82 L317.45 99.46 L319.45 98.11 L321.45 96.77 L323.45 95.45 L325.45 94.14 L327.45 92.83 L329.45 91.54 L331.45 90.26 L333.45 88.99 L335.45 87.73 L337.45 86.48 L339.45 85.24 L341.45 84.01 L343.45 82.79 L345.45 81.58 L347.45 80.37 L349.45 79.17 L349.45 79.17" stroke="#000000" stroke-width="1.4" stroke-dasharray="3.3 1.5"/>
</g>
<g clip-path="url(#clip_b)" fill="none" stroke-linejoin="round">
<path d="M65.10 479.80 L65.69 479.69 L66.28 479.58 L66.87 479.47 L67.46 479.36 L68.06 479.25 L68.65 479.14 L69.24 479.04 L69.83 478.93 L70.43 478.82 L71.02 478.71 L71.61 478.60 L72.20 478.49 L72.79 478.38 L73.38 478.27 L73.97 478.16 L74.56 478.05 L75.14 477.94 L75.73 477.83 L76.32 477.71 L76.90 477.60 L77.50 477.48 L78.10 477.37 L78.70 477.26 L79.30 477.14 L79.90 477.03 L80.49 476.92 L81.09 476.81 L81.68 476.70 L82.28 476.58 L82.87 476.47 L83.46 476.35 L84.06 476.23 L84.65 476.11 L85.24 475.98 L85.83 475.86 L86.43 475.72 L87.02 475.59 L87.61 475.45 L88.20 475.30 L88.80 475.15 L89.40 474.99 L90.01 474.83 L90.62 474.67 L91.23 474.50 L91.84 474.33 L92.45 474.16 L93.06 473.99 L93.67 473.81 L94.27 473.63 L94.88 473.44 L95.48 473.26 L96.07 473.07 L96.66 472.88 L97.24 472.69 L97.82 472.49 L98.39 472.30 L98.95 472.10 L99.50 471.90 L100.11 471.67 L100.71 471.45 L101.31 471.22 L101.90 470.99 L102.48 470.76 L103.06 470.53 L103.63 470.29 L104.19 470.05 L104.75 469.81 L105.30 469.55 L105.85 469.30 L106.40 469.03 L106.93 468.76 L107.47 468.49 L108.00 468.20 L108.54 467.90 L109.08 467.59 L109.61 467.27 L110.14 466.95 L110.67 466.62 L111.18 466.28 L111.70 465.94 L112.20 465.59 L112.70 465.24 L113.20 464.88 L113.68 464.52 L114.16 464.15 L114.64 463.78 L115.10 463.40 L115.57 463.01 L116.03 462.61 L116.49 462.21 L116.93 461.81 L117.37 461.40 L117.80 460.98 L118.22 460.56 L118.64 460.13 L119.06 459.68 L119.47 459.23 L119.88 458.77 L120.29 458.29 L120.70 457.80 L121.06 457.36 L121.41 456.90 L121.76 456.42 L122.11 455.93 L122.45 455.43 L122.80 454.91 L123.14 454.39 L123.48 453.87 L123.82 453.34 L124.15 452.82 L124.48 452.29 L124.81 451.77 L125.13 451.26 L125.45 450.75 L125.77 450.25 L126.09 449.77 L126.40 449.30 L126.77 448.74 L127.13 448.19 L127.48 447.64 L127.82 447.10 L128.16 446.57 L128.50 446.04 L128.84 445.52 L129.18 445.01 L129.52 444.51 L129.87 444.03 L130.23 443.56 L130.60 443.10 L131.01 442.62 L131.42 442.14 L131.83 441.67 L132.26 441.21 L132.68 440.77 L133.11 440.35 L133.55 439.94 L134.00 439.57 L134.44 439.22 L134.90 438.90 L135.48 438.54 L136.06 438.21 L136.66 437.91 L137.27 437.65 L137.88 437.45 L138.49 437.29 L139.10 437.20 L139.70 437.17 L140.30 437.20 L140.91 437.29 L141.51 437.41 L142.12 437.58 L142.71 437.78 L143.30 438.00 L143.85 438.24 L144.40 438.52 L144.93 438.82 L145.47 439.16 L146.00 439.53 L146.53 439.92 L147.06 440.35 L147.60 440.80 L148.00 441.16 L148.39 441.54 L148.78 441.94 L149.18 442.37 L149.57 442.81 L149.97 443.26 L150.36 443.73 L150.76 444.21 L151.16 444.69 L151.56 445.18 L151.97 445.67 L152.37 446.15 L152.78 446.63 L153.20 447.10 L153.60 447.55 L154.00 448.00 L154.41 448.46 L154.82 448.93 L155.23 449.40 L155.64 449.87 L156.06 450.34 L156.48 450.82 L156.90 451.29 L157.32 451.76 L157.74 452.22 L158.15 452.67 L158.57 453.12 L158.98 453.56 L159.39 453.99 L159.80 454.40 L160.27 454.87 L160.75 455.34 L161.22 455.80 L161.68 456.25 L162.15 456.70 L162.62 457.13 L163.08 457.56 L163.55 457.97 L164.01 458.37 L164.48 458.76 L164.94 459.14 L165.40 459.50 L165.92 459.89 L166.45 460.26 L166.96 460.60 L167.48 460.93 L168.00 461.25 L168.52 461.57 L169.04 461.87 L169.57 462.18 L170.10 462.50 L170.65 462.83 L171.20 463.15 L171.75 463.47 L172.30 463.79 L172.86 464.10 L173.42 464.41 L174.00 464.71 L174.59 465.01 L175.20 465.30 L175.76 465.56 L176.34 465.82 L176.92 466.08 L177.51 466.34 L178.11 466.59 L178.72 466.84 L179.34 467.08 L179.97 467.30 L180.60 467.52 L181.25 467.72 L181.90 467.90 L182.47 468.04 L183.06 468.18 L183.67 468.30 L184.28 468.42 L184.90 468.52 L185.53 468.62 L186.16 468.71 L186.79 468.79 L187.42 468.87 L188.04 468.94 L188.65 469.01 L189.25 469.08 L189.83 469.14 L190.40 469.20 L191.06 469.26 L191.73 469.30 L192.39 469.32 L193.05 469.34 L193.70 469.36 L194.32 469.37 L194.91 469.40 L195.46 469.45 L195.96 469.51 L196.40 469.60 L197.09 469.94 L197.65 470.32 L198.10 470.40 L198.34 470.01 L198.44 469.29 L198.50 468.42 L198.63 467.59 L198.90 467.00 L199.38 466.67 L199.98 466.49 L200.66 466.37 L201.40 466.20 L201.90 466.05 L202.45 465.89 L203.04 465.73 L203.66 465.55 L204.30 465.37 L204.94 465.19 L205.59 465.01 L206.22 464.84 L206.83 464.66 L207.40 464.50 L208.06 464.32 L208.68 464.15 L209.29 463.99 L209.90 463.83 L210.51 463.65 L211.14 463.45 L211.80 463.20 L212.32 462.99 L212.86 462.76 L213.42 462.51 L213.98 462.25 L214.56 461.98 L215.14 461.69 L215.73 461.39 L216.31 461.09 L216.89 460.77 L217.47 460.45 L218.04 460.13 L218.60 459.80 L219.13 459.48 L219.66 459.16 L220.18 458.83 L220.70 458.50 L221.22 458.16 L221.74 457.81 L222.26 457.45 L222.77 457.09 L223.29 456.71 L223.79 456.32 L224.30 455.93 L224.80 455.52 L225.30 455.10 L225.74 454.71 L226.19 454.31 L226.63 453.90 L227.07 453.47 L227.51 453.04 L227.95 452.60 L228.39 452.15 L228.82 451.69 L229.25 451.23 L229.67 450.77 L230.09 450.30 L230.51 449.84 L230.92 449.37 L231.32 448.91 L231.71 448.45 L232.10 448.00 L232.50 447.52 L232.90 447.04 L233.28 446.56 L233.67 446.08 L234.04 445.59 L234.41 445.11 L234.77 444.63 L235.13 444.14 L235.48 443.65 L235.83 443.16 L236.18 442.67 L236.52 442.18 L236.86 441.69 L237.20 441.20 L237.55 440.68 L237.89 440.17 L238.23 439.65 L238.56 439.13 L238.88 438.60 L239.21 438.08 L239.53 437.56 L239.84 437.03 L240.16 436.51 L240.47 435.98 L240.78 435.45 L241.09 434.93 L241.40 434.40 L241.73 433.84 L242.06 433.28 L242.39 432.72 L242.71 432.16 L243.03 431.60 L243.35 431.04 L243.67 430.48 L243.98 429.91 L244.29 429.34 L244.60 428.77 L244.90 428.19 L245.20 427.60 L245.48 427.04 L245.76 426.47 L246.03 425.90 L246.30 425.33 L246.57 424.76 L246.84 424.18 L247.10 423.59 L247.36 423.01 L247.61 422.42 L247.87 421.82 L248.11 421.22 L248.36 420.61 L248.60 420.00 L248.82 419.43 L249.04 418.85 L249.25 418.26 L249.46 417.67 L249.66 417.08 L249.86 416.48 L250.06 415.88 L250.26 415.27 L250.46 414.67 L250.65 414.06 L250.84 413.45 L251.03 412.83 L251.22 412.22 L251.41 411.61 L251.60 411.00 L251.78 410.41 L251.96 409.83 L252.13 409.24 L252.30 408.64 L252.47 408.05 L252.64 407.45 L252.81 406.86 L252.98 406.26 L253.14 405.66 L253.31 405.07 L253.47 404.47 L253.64 403.87 L253.80 403.28 L253.97 402.68 L254.13 402.09 L254.30 401.50 L254.47 400.88 L254.65 400.27 L254.82 399.65 L255.00 399.04 L255.17 398.42 L255.34 397.81 L255.52 397.20 L255.69 396.59 L255.86 395.98 L256.04 395.37 L256.21 394.75 L256.38 394.14 L256.55 393.53 L256.73 392.91 L256.90 392.30 L257.06 391.72 L257.23 391.14 L257.39 390.55 L257.55 389.97 L257.71 389.38 L257.88 388.80 L258.04 388.21 L258.20 387.63 L258.36 387.04 L258.52 386.46 L258.69 385.88 L258.85 385.30 L259.01 384.72 L259.17 384.14 L259.34 383.57 L259.50 383.00 L259.68 382.38 L259.85 381.76 L260.03 381.14 L260.20 380.52 L260.37 379.91 L260.55 379.30 L260.72 378.69 L260.90 378.08 L261.07 377.47 L261.25 376.87 L261.43 376.27 L261.62 375.68 L261.81 375.09 L262.00 374.50 L262.20 373.90 L262.40 373.31 L262.60 372.71 L262.81 372.12 L263.02 371.53 L263.23 370.95 L263.44 370.37 L263.66 369.79 L263.88 369.22 L264.10 368.66 L264.33 368.10 L264.56 367.55 L264.80 367.00 L265.07 366.40 L265.33 365.81 L265.60 365.22 L265.88 364.64 L266.16 364.06 L266.44 363.50 L266.73 362.94 L267.04 362.39 L267.35 361.85 L267.67 361.32 L268.00 360.80 L268.36 360.28 L268.72 359.77 L269.10 359.28 L269.49 358.80 L269.88 358.33 L270.29 357.87 L270.70 357.40 L271.12 356.94 L271.56 356.47 L272.00 356.00 L272.42 355.56 L272.84 355.13 L273.28 354.70 L273.73 354.27 L274.18 353.84 L274.64 353.41 L275.11 352.98 L275.58 352.54 L276.06 352.11 L276.54 351.68 L277.02 351.24 L277.50 350.80 L277.94 350.39 L278.38 349.98 L278.83 349.58 L279.27 349.16 L279.72 348.75 L280.17 348.34 L280.63 347.92 L281.09 347.51 L281.56 347.09 L282.03 346.68 L282.51 346.26 L283.00 345.84 L283.49 345.42 L284.00 345.00 L284.46 344.63 L284.92 344.25 L285.40 343.87 L285.88 343.49 L286.37 343.11 L286.87 342.73 L287.37 342.35 L287.87 341.97 L288.38 341.59 L288.89 341.20 L289.41 340.82 L289.92 340.44 L290.44 340.06 L290.95 339.69 L291.47 339.31 L291.98 338.94 L292.49 338.57 L293.00 338.20 L293.50 337.84 L294.00 337.48 L294.50 337.12 L295.01 336.76 L295.51 336.40 L296.01 336.04 L296.52 335.68 L297.02 335.33 L297.53 334.98 L298.04 334.62 L298.54 334.27 L299.05 333.93 L299.56 333.58 L300.06 333.24 L300.57 332.90 L301.08 332.56 L301.59 332.23 L302.10 331.90 L302.62 331.56 L303.15 331.24 L303.67 330.91 L304.19 330.59 L304.71 330.28 L305.23 329.97 L305.76 329.66 L306.28 329.35 L306.80 329.05 L307.33 328.74 L307.86 328.43 L308.39 328.12 L308.92 327.80 L309.46 327.49 L310.00 327.16 L310.55 326.83 L311.10 326.50 L311.60 326.19 L312.10 325.88 L312.61 325.56 L313.13 325.24 L313.65 324.91 L314.17 324.58 L314.69 324.25 L315.22 323.92 L315.75 323.58 L316.28 323.24 L316.81 322.91 L317.34 322.57 L317.87 322.24 L318.40 321.90 L318.92 321.57 L319.45 321.25 L319.97 320.93 L320.48 320.61 L320.99 320.30 L321.50 320.00 L322.00 319.70 L322.55 319.38 L323.09 319.07 L323.63 318.76 L324.17 318.46 L324.70 318.16 L325.23 317.87 L325.76 317.58 L326.28 317.30 L326.81 317.01 L327.33 316.73 L327.85 316.45 L328.38 316.16 L328.90 315.88 L329.42 315.59 L329.95 315.30 L330.47 315.00 L331.00 314.70 L331.54 314.39 L332.07 314.08 L332.60 313.76 L333.14 313.45 L333.67 313.13 L334.20 312.81 L334.74 312.49 L335.27 312.17 L335.80 311.85 L336.34 311.52 L336.87 311.20 L337.41 310.88 L337.94 310.56 L338.48 310.24 L339.02 309.93 L339.56 309.61 L340.10 309.30 L340.65 308.99 L341.20 308.68 L341.74 308.37 L342.30 308.06 L342.85 307.75 L343.40 307.45 L343.95 307.14 L344.51 306.84 L345.06 306.53 L345.62 306.23 L346.17 305.93 L346.73 305.62 L347.28 305.32 L347.84 305.01 L348.39 304.71 L348.95 304.41 L349.50 304.10" stroke="#ff0000" stroke-width="1.4"/>
<path d="M65.10 484.53 L65.71 484.51 L66.32 484.48 L66.93 484.46 L67.54 484.44 L68.15 484.42 L68.77 484.40 L69.38 484.39 L70.00 484.37 L70.61 484.35 L71.23 484.33 L71.84 484.31 L72.46 484.30 L73.07 484.28 L73.69 484.26 L74.30 484.24 L74.92 484.23 L75.53 484.21 L76.15 484.19 L76.76 484.17 L77.38 484.15 L77.99 484.13 L78.60 484.11 L79.21 484.09 L79.82 484.07 L80.43 484.05 L81.04 484.03 L81.65 484.00 L82.25 483.98 L82.85 483.95 L83.46 483.93 L84.06 483.90 L84.65 483.87 L85.25 483.84 L85.85 483.81 L86.44 483.77 L87.03 483.74 L87.61 483.70 L88.20 483.66 L88.82 483.62 L89.44 483.58 L90.06 483.54 L90.68 483.49 L91.30 483.44 L91.92 483.40 L92.53 483.35 L93.14 483.30 L93.76 483.25 L94.37 483.20 L94.97 483.15 L95.58 483.10 L96.19 483.05 L96.79 482.99 L97.40 482.94 L98.00 482.88 L98.60 482.82 L99.20 482.76 L99.79 482.70 L100.39 482.64 L100.98 482.58 L101.58 482.52 L102.17 482.46 L102.76 482.39 L103.35 482.33 L103.93 482.26 L104.52 482.19 L105.10 482.12 L105.68 482.05 L106.27 481.98 L106.85 481.91 L107.42 481.83 L108.00 481.76 L108.63 481.68 L109.27 481.59 L109.90 481.51 L110.53 481.42 L111.17 481.33 L111.80 481.24 L112.43 481.15 L113.06 481.05 L113.69 480.96 L114.32 480.86 L114.95 480.77 L115.57 480.67 L116.19 480.57 L116.81 480.47 L117.43 480.37 L118.04 480.27 L118.65 480.16 L119.25 480.06 L119.85 479.95 L120.44 479.84 L121.03 479.73 L121.62 479.63 L122.20 479.52 L122.77 479.40 L123.34 479.29 L123.90 479.18 L124.45 479.06 L125.00 478.95 L125.65 478.81 L126.30 478.67 L126.94 478.52 L127.57 478.38 L128.19 478.23 L128.81 478.08 L129.42 477.93 L130.02 477.78 L130.62 477.62 L131.21 477.47 L131.79 477.31 L132.37 477.15 L132.95 476.99 L133.52 476.83 L134.08 476.67 L134.64 476.51 L135.20 476.34 L135.75 476.18 L136.30 476.01 L136.95 475.82 L137.59 475.62 L138.23 475.43 L138.86 475.24 L139.48 475.04 L140.10 474.85 L140.71 474.65 L141.31 474.44 L141.90 474.23 L142.48 474.02 L143.05 473.80 L143.62 473.57 L144.16 473.33 L144.70 473.08 L145.28 472.80 L145.84 472.52 L146.39 472.24 L146.92 471.95 L147.45 471.65 L147.96 471.34 L148.46 471.01 L148.96 470.67 L149.44 470.32 L149.92 469.94 L150.40 469.54 L150.83 469.14 L151.25 468.70 L151.65 468.24 L152.05 467.75 L152.44 467.25 L152.82 466.74 L153.20 466.22 L153.58 465.71 L153.96 465.21 L154.34 464.72 L154.72 464.26 L155.11 463.82 L155.50 463.42 L155.97 462.97 L156.44 462.53 L156.91 462.10 L157.38 461.70 L157.85 461.32 L158.33 460.97 L158.81 460.64 L159.30 460.35 L159.80 460.10 L160.38 459.85 L160.98 459.64 L161.58 459.46 L162.19 459.33 L162.79 459.24 L163.40 459.19 L164.00 459.20 L164.61 459.27 L165.24 459.40 L165.86 459.58 L166.48 459.80 L167.08 460.05 L167.66 460.32 L168.20 460.60 L168.81 460.96 L169.37 461.36 L169.90 461.79 L170.44 462.27 L171.00 462.80 L171.39 463.19 L171.79 463.62 L172.19 464.08 L172.60 464.57 L173.01 465.07 L173.43 465.58 L173.86 466.08 L174.30 466.58 L174.74 467.05 L175.20 467.50 L175.67 467.94 L176.16 468.37 L176.66 468.80 L177.16 469.22 L177.68 469.63 L178.20 470.03 L178.72 470.42 L179.25 470.80 L179.77 471.16 L180.30 471.50 L180.84 471.83 L181.37 472.15 L181.91 472.45 L182.45 472.74 L183.00 473.01 L183.55 473.27 L184.12 473.52 L184.70 473.77 L185.30 474.00 L185.87 474.21 L186.46 474.40 L187.06 474.59 L187.68 474.77 L188.30 474.94 L188.93 475.10 L189.57 475.26 L190.21 475.40 L190.84 475.54 L191.47 475.67 L192.10 475.80 L192.71 475.92 L193.33 476.04 L193.95 476.15 L194.57 476.25 L195.18 476.35 L195.80 476.43 L196.42 476.51 L197.04 476.58 L197.66 476.63 L198.28 476.67 L198.90 476.70 L199.52 476.71 L200.14 476.72 L200.77 476.72 L201.40 476.70 L202.02 476.68 L202.65 476.64 L203.27 476.59 L203.89 476.52 L204.50 476.43 L205.10 476.32 L205.70 476.20 L206.33 476.04 L206.96 475.85 L207.58 475.64 L208.19 475.40 L208.80 475.15 L209.40 474.89 L210.00 474.62 L210.60 474.35 L211.20 474.07 L211.80 473.80 L212.35 473.54 L212.90 473.26 L213.45 472.96 L213.99 472.66 L214.54 472.35 L215.08 472.05 L215.62 471.75 L216.15 471.47 L216.68 471.22 L217.19 470.99 L217.70 470.80 L218.33 470.61 L218.95 470.47 L219.56 470.36 L220.16 470.27 L220.75 470.19 L221.33 470.11 L221.90 470.00 L222.60 469.87 L223.27 469.76 L223.93 469.63 L224.60 469.46 L225.30 469.20 L225.79 468.97 L226.29 468.71 L226.80 468.40 L227.33 468.08 L227.86 467.72 L228.38 467.35 L228.91 466.97 L229.42 466.58 L229.92 466.19 L230.40 465.80 L230.87 465.41 L231.33 465.02 L231.78 464.62 L232.23 464.21 L232.66 463.78 L233.09 463.35 L233.51 462.91 L233.92 462.45 L234.32 461.98 L234.70 461.50 L235.06 461.02 L235.41 460.53 L235.75 460.02 L236.08 459.50 L236.40 458.97 L236.71 458.43 L237.01 457.89 L237.30 457.33 L237.58 456.76 L237.84 456.18 L238.10 455.60 L238.32 455.06 L238.53 454.50 L238.73 453.94 L238.92 453.36 L239.11 452.78 L239.28 452.19 L239.45 451.59 L239.60 450.99 L239.75 450.39 L239.90 449.79 L240.04 449.19 L240.17 448.59 L240.30 448.00 L240.43 447.37 L240.55 446.73 L240.65 446.09 L240.74 445.46 L240.83 444.82 L240.91 444.18 L240.99 443.54 L241.07 442.90 L241.15 442.25 L241.23 441.60 L241.31 440.95 L241.40 440.30 L241.48 439.71 L241.57 439.11 L241.66 438.51 L241.74 437.90 L241.83 437.29 L241.92 436.68 L242.00 436.07 L242.09 435.46 L242.18 434.85 L242.26 434.25 L242.35 433.65 L242.43 433.06 L242.52 432.47 L242.60 431.90 L242.69 431.26 L242.79 430.63 L242.88 430.02 L242.97 429.41 L243.07 428.81 L243.16 428.21 L243.25 427.61 L243.34 427.00 L243.43 426.38 L243.51 425.75 L243.60 425.10 L243.67 424.51 L243.74 423.91 L243.81 423.30 L243.87 422.68 L243.93 422.06 L243.99 421.43 L244.06 420.80 L244.12 420.16 L244.19 419.52 L244.26 418.88 L244.33 418.24 L244.41 417.59 L244.50 416.95 L244.60 416.30 L244.70 415.70 L244.80 415.09 L244.92 414.48 L245.03 413.86 L245.15 413.24 L245.28 412.63 L245.41 412.00 L245.54 411.38 L245.67 410.76 L245.81 410.14 L245.94 409.51 L246.08 408.89 L246.21 408.26 L246.34 407.64 L246.47 407.02 L246.60 406.40 L246.73 405.78 L246.85 405.15 L246.98 404.52 L247.10 403.89 L247.23 403.25 L247.35 402.61 L247.48 401.98 L247.60 401.35 L247.73 400.72 L247.85 400.09 L247.98 399.47 L248.10 398.86 L248.23 398.25 L248.35 397.66 L248.48 397.07 L248.60 396.50 L248.74 395.86 L248.87 395.21 L249.00 394.57 L249.12 393.94 L249.25 393.31 L249.38 392.70 L249.51 392.09 L249.65 391.51 L249.79 390.95 L249.95 390.40 L250.12 389.89 L250.30 389.40 L250.58 388.72 L250.87 388.08 L251.18 387.48 L251.52 386.93 L251.89 386.44 L252.30 386.00 L252.80 385.61 L253.35 385.30 L253.93 385.04 L254.52 384.82 L255.10 384.60 L255.81 384.41 L256.53 384.30 L257.24 384.13 L257.90 383.80 L258.30 383.44 L258.67 382.98 L259.02 382.45 L259.36 381.88 L259.69 381.27 L260.02 380.66 L260.35 380.06 L260.70 379.50 L261.05 378.97 L261.40 378.44 L261.74 377.91 L262.08 377.38 L262.44 376.85 L262.81 376.33 L263.19 375.81 L263.60 375.30 L264.01 374.82 L264.44 374.34 L264.88 373.87 L265.34 373.40 L265.81 372.93 L266.29 372.47 L266.79 372.01 L267.29 371.55 L267.80 371.10 L268.27 370.70 L268.75 370.31 L269.25 369.92 L269.76 369.53 L270.28 369.15 L270.80 368.76 L271.32 368.38 L271.85 367.99 L272.37 367.60 L272.89 367.20 L273.40 366.80 L273.87 366.42 L274.34 366.04 L274.80 365.66 L275.26 365.28 L275.72 364.90 L276.18 364.51 L276.65 364.12 L277.12 363.71 L277.60 363.30 L278.09 362.88 L278.59 362.45 L279.10 362.00 L279.52 361.63 L279.94 361.25 L280.37 360.86 L280.81 360.45 L281.25 360.04 L281.70 359.62 L282.15 359.20 L282.60 358.77 L283.06 358.34 L283.53 357.90 L284.00 357.46 L284.47 357.02 L284.95 356.58 L285.43 356.14 L285.92 355.70 L286.41 355.27 L286.90 354.84 L287.40 354.42 L287.90 354.00 L288.36 353.63 L288.82 353.26 L289.28 352.89 L289.76 352.52 L290.24 352.15 L290.72 351.78 L291.20 351.41 L291.69 351.04 L292.19 350.67 L292.68 350.31 L293.18 349.94 L293.68 349.58 L294.18 349.21 L294.69 348.85 L295.19 348.48 L295.70 348.12 L296.20 347.76 L296.70 347.40 L297.21 347.04 L297.71 346.68 L298.21 346.32 L298.71 345.96 L299.20 345.60 L299.69 345.25 L300.17 344.89 L300.66 344.54 L301.14 344.18 L301.62 343.83 L302.10 343.48 L302.58 343.13 L303.06 342.78 L303.54 342.43 L304.02 342.08 L304.50 341.73 L304.98 341.38 L305.47 341.03 L305.96 340.68 L306.45 340.34 L306.94 339.99 L307.43 339.65 L307.93 339.30 L308.44 338.96 L308.95 338.62 L309.46 338.28 L309.98 337.94 L310.50 337.60 L310.99 337.29 L311.50 336.97 L312.01 336.66 L312.53 336.35 L313.06 336.04 L313.60 335.73 L314.14 335.42 L314.69 335.11 L315.24 334.80 L315.80 334.49 L316.35 334.18 L316.91 333.87 L317.47 333.57 L318.02 333.26 L318.57 332.96 L319.12 332.66 L319.66 332.35 L320.20 332.05 L320.73 331.75 L321.25 331.45 L321.77 331.16 L322.27 330.86 L322.76 330.56 L323.24 330.27 L323.71 329.98 L324.16 329.69 L324.60 329.40 L325.17 329.00 L325.73 328.58 L326.28 328.15 L326.81 327.70 L327.33 327.26 L327.84 326.82 L328.34 326.38 L328.82 325.96 L329.29 325.55 L329.76 325.17 L330.21 324.82 L330.64 324.50 L331.07 324.22 L331.49 323.99 L331.90 323.80 L332.60 323.56 L333.27 323.40 L333.90 323.33 L334.48 323.36 L335.00 323.50 L335.49 323.85 L335.91 324.38 L336.26 324.97 L336.60 325.50 L337.08 326.40 L337.50 326.90 L337.70 326.67 L337.89 326.12 L338.07 325.37 L338.24 324.52 L338.42 323.69 L338.60 323.00 L338.85 322.30 L339.11 321.65 L339.36 321.00 L339.60 320.30 L339.74 319.64 L339.85 318.87 L339.95 318.08 L340.07 317.36 L340.24 316.80 L340.50 316.50 L341.02 316.66 L341.66 317.15 L342.30 317.40 L342.84 317.15 L343.36 316.64 L343.93 316.06 L344.60 315.60 L345.11 315.40 L345.67 315.24 L346.28 315.11 L346.92 315.00 L347.57 314.91 L348.22 314.81 L348.87 314.71 L349.50 314.60" stroke="#0000ff" stroke-width="1.55" stroke-dasharray="9.0 1.4"/>
<path d="M65.10 486.92 L65.70 486.91 L66.31 486.90 L66.91 486.89 L67.52 486.88 L68.12 486.87 L68.73 486.86 L69.34 486.85 L69.95 486.85 L70.56 486.84 L71.17 486.83 L71.79 486.82 L72.40 486.82 L73.01 486.81 L73.63 486.80 L74.24 486.80 L74.86 486.79 L75.47 486.78 L76.09 486.78 L76.70 486.77 L77.32 486.77 L77.93 486.76 L78.55 486.75 L79.16 486.75 L79.78 486.74 L80.39 486.73 L81.01 486.73 L81.62 486.72 L82.24 486.71 L82.85 486.71 L83.46 486.70 L84.08 486.69 L84.69 486.69 L85.30 486.68 L85.91 486.67 L86.52 486.66 L87.13 486.66 L87.74 486.65 L88.34 486.64 L88.95 486.63 L89.55 486.62 L90.15 486.61 L90.75 486.60 L91.35 486.59 L91.95 486.58 L92.55 486.57 L93.15 486.56 L93.74 486.55 L94.33 486.53 L94.92 486.52 L95.51 486.51 L96.10 486.50 L96.68 486.48 L97.26 486.47 L97.84 486.45 L98.42 486.44 L99.00 486.42 L99.57 486.40 L100.14 486.38 L100.71 486.37 L101.28 486.35 L101.84 486.33 L102.40 486.31 L103.04 486.28 L103.68 486.26 L104.32 486.23 L104.96 486.21 L105.59 486.18 L106.22 486.15 L106.85 486.13 L107.48 486.10 L108.11 486.07 L108.74 486.04 L109.36 486.01 L109.99 485.97 L110.61 485.94 L111.23 485.91 L111.84 485.88 L112.46 485.84 L113.07 485.81 L113.69 485.77 L114.30 485.74 L114.90 485.70 L115.51 485.67 L116.12 485.63 L116.72 485.60 L117.32 485.56 L117.92 485.52 L118.52 485.49 L119.11 485.45 L119.71 485.41 L120.30 485.38 L120.89 485.34 L121.47 485.30 L122.06 485.26 L122.64 485.23 L123.23 485.19 L123.80 485.15 L124.38 485.11 L124.96 485.08 L125.53 485.04 L126.10 485.00 L126.67 484.96 L127.24 484.93 L127.81 484.89 L128.37 484.85 L128.93 484.82 L129.49 484.78 L130.05 484.75 L130.60 484.71 L131.26 484.67 L131.91 484.63 L132.57 484.59 L133.22 484.56 L133.87 484.52 L134.53 484.49 L135.18 484.46 L135.83 484.42 L136.47 484.39 L137.12 484.36 L137.76 484.33 L138.40 484.30 L139.04 484.27 L139.67 484.24 L140.30 484.20 L140.93 484.17 L141.55 484.14 L142.17 484.10 L142.78 484.06 L143.39 484.03 L144.00 483.99 L144.60 483.95 L145.19 483.90 L145.78 483.86 L146.36 483.81 L146.94 483.76 L147.51 483.71 L148.07 483.66 L148.63 483.60 L149.18 483.54 L149.72 483.47 L150.25 483.40 L150.78 483.33 L151.30 483.26 L151.98 483.15 L152.65 483.04 L153.31 482.92 L153.96 482.80 L154.59 482.67 L155.21 482.54 L155.83 482.41 L156.43 482.27 L157.03 482.13 L157.62 481.98 L158.20 481.84 L158.77 481.69 L159.33 481.54 L159.89 481.39 L160.44 481.24 L160.99 481.09 L161.53 480.94 L162.07 480.79 L162.60 480.64 L163.24 480.46 L163.86 480.29 L164.48 480.13 L165.09 479.96 L165.69 479.79 L166.28 479.62 L166.85 479.44 L167.42 479.26 L167.98 479.07 L168.53 478.87 L169.06 478.66 L169.59 478.44 L170.10 478.20 L170.67 477.90 L171.21 477.58 L171.73 477.24 L172.23 476.88 L172.73 476.52 L173.21 476.16 L173.70 475.80 L174.19 475.45 L174.69 475.11 L175.20 474.80 L175.76 474.48 L176.34 474.15 L176.92 473.83 L177.50 473.52 L178.08 473.23 L178.66 472.95 L179.22 472.70 L179.77 472.48 L180.30 472.30 L180.99 472.09 L181.66 471.93 L182.31 471.82 L182.95 471.77 L183.60 471.80 L184.17 471.90 L184.74 472.07 L185.31 472.29 L185.88 472.55 L186.44 472.82 L187.00 473.10 L187.57 473.41 L188.11 473.75 L188.66 474.12 L189.21 474.49 L189.79 474.86 L190.40 475.20 L190.91 475.46 L191.45 475.72 L192.01 475.98 L192.58 476.23 L193.16 476.48 L193.74 476.72 L194.33 476.94 L194.92 477.14 L195.50 477.33 L196.13 477.51 L196.76 477.66 L197.40 477.80 L198.04 477.92 L198.68 478.03 L199.32 478.13 L199.96 478.22 L200.60 478.30 L201.23 478.38 L201.86 478.46 L202.49 478.54 L203.13 478.60 L203.76 478.65 L204.40 478.67 L205.05 478.65 L205.70 478.60 L206.29 478.51 L206.89 478.39 L207.49 478.24 L208.10 478.07 L208.71 477.88 L209.32 477.67 L209.94 477.46 L210.56 477.23 L211.18 477.01 L211.80 476.80 L212.36 476.61 L212.94 476.41 L213.52 476.21 L214.11 476.00 L214.71 475.79 L215.30 475.57 L215.88 475.35 L216.46 475.13 L217.02 474.90 L217.57 474.67 L218.10 474.44 L218.60 474.20 L219.19 473.91 L219.77 473.63 L220.33 473.34 L220.88 473.05 L221.39 472.74 L221.89 472.42 L222.36 472.07 L222.80 471.70 L223.24 471.28 L223.66 470.85 L224.05 470.39 L224.41 469.91 L224.74 469.41 L225.04 468.87 L225.30 468.30 L225.50 467.74 L225.66 467.15 L225.77 466.52 L225.87 465.88 L225.94 465.21 L226.00 464.52 L226.06 463.82 L226.12 463.11 L226.20 462.40 L226.27 461.84 L226.33 461.27 L226.39 460.68 L226.45 460.09 L226.50 459.48 L226.56 458.87 L226.61 458.25 L226.67 457.63 L226.72 457.00 L226.77 456.37 L226.83 455.75 L226.88 455.13 L226.94 454.51 L227.00 453.90 L227.06 453.29 L227.12 452.69 L227.19 452.09 L227.25 451.49 L227.32 450.89 L227.39 450.30 L227.45 449.70 L227.52 449.09 L227.59 448.49 L227.65 447.88 L227.72 447.27 L227.78 446.65 L227.84 446.03 L227.90 445.40 L227.95 444.79 L228.00 444.17 L228.05 443.53 L228.10 442.89 L228.14 442.24 L228.18 441.59 L228.22 440.93 L228.27 440.28 L228.31 439.62 L228.36 438.98 L228.40 438.34 L228.45 437.70 L228.51 437.08 L228.57 436.47 L228.63 435.88 L228.70 435.30 L228.79 434.63 L228.88 433.98 L228.97 433.34 L229.07 432.72 L229.17 432.11 L229.28 431.51 L229.39 430.91 L229.51 430.31 L229.63 429.71 L229.76 429.11 L229.90 428.50 L230.04 427.88 L230.20 427.26 L230.35 426.64 L230.52 426.02 L230.69 425.40 L230.86 424.78 L231.04 424.17 L231.22 423.55 L231.41 422.93 L231.60 422.32 L231.80 421.70 L231.99 421.12 L232.18 420.54 L232.37 419.96 L232.56 419.38 L232.76 418.80 L232.97 418.22 L233.18 417.64 L233.39 417.07 L233.61 416.49 L233.83 415.93 L234.06 415.36 L234.30 414.80 L234.56 414.20 L234.84 413.61 L235.12 413.02 L235.41 412.44 L235.71 411.86 L236.00 411.29 L236.31 410.71 L236.61 410.13 L236.91 409.56 L237.21 408.98 L237.50 408.40 L239.45 406.36 L241.45 403.89 L243.45 401.49 L245.45 399.15 L247.45 396.88 L249.45 394.66 L251.45 392.50 L253.45 390.38 L255.45 388.31 L257.45 386.28 L259.45 384.29 L261.45 382.34 L263.45 380.43 L265.45 378.55 L267.45 376.70 L269.45 374.88 L271.45 373.09 L273.45 371.33 L275.45 369.59 L277.45 367.88 L279.45 366.20 L281.45 364.54 L283.45 362.90 L285.45 361.28 L287.45 359.68 L289.45 358.10 L291.45 356.54 L293.45 355.00 L295.45 353.48 L297.45 351.98 L299.45 350.49 L301.45 349.01 L303.45 347.56 L305.45 346.12 L307.45 344.69 L309.45 343.28 L311.45 341.88 L313.45 340.49 L315.45 339.12 L317.45 337.76 L319.45 336.41 L321.45 335.07 L323.45 333.75 L325.45 332.44 L327.45 331.13 L329.45 329.84 L331.45 328.56 L333.45 327.29 L335.45 326.03 L337.45 324.78 L339.45 323.54 L341.45 322.31 L343.45 321.09 L345.45 319.88 L347.45 318.67 L349.45 317.47 L349.45 317.47" stroke="#ff00ff" stroke-width="1.55" stroke-dasharray="7.4 2.2 1.7 2.4"/>
<path d="M65.00 487.20 L65.60 487.20 L66.21 487.20 L66.82 487.20 L67.43 487.19 L68.04 487.19 L68.65 487.19 L69.27 487.19 L69.88 487.19 L70.50 487.19 L71.12 487.19 L71.75 487.19 L72.37 487.19 L72.99 487.18 L73.62 487.18 L74.25 487.18 L74.88 487.18 L75.51 487.18 L76.14 487.18 L76.77 487.18 L77.41 487.18 L78.05 487.18 L78.68 487.18 L79.32 487.18 L79.96 487.18 L80.60 487.17 L81.24 487.17 L81.88 487.17 L82.52 487.17 L83.17 487.17 L83.81 487.17 L84.46 487.17 L85.10 487.17 L85.75 487.17 L86.40 487.17 L87.05 487.17 L87.69 487.17 L88.34 487.17 L88.99 487.17 L89.64 487.17 L90.29 487.17 L90.94 487.16 L91.59 487.16 L92.24 487.16 L92.89 487.16 L93.54 487.16 L94.19 487.16 L94.85 487.16 L95.50 487.16 L96.15 487.16 L96.80 487.16 L97.45 487.16 L98.10 487.16 L98.75 487.16 L99.40 487.16 L100.05 487.16 L100.70 487.16 L101.35 487.16 L102.00 487.16 L102.65 487.16 L103.29 487.15 L103.94 487.15 L104.59 487.15 L105.23 487.15 L105.88 487.15 L106.52 487.15 L107.17 487.15 L107.81 487.15 L108.45 487.15 L109.09 487.15 L109.73 487.15 L110.37 487.15 L111.01 487.15 L111.65 487.15 L112.28 487.15 L112.92 487.14 L113.55 487.14 L114.18 487.14 L114.81 487.14 L115.44 487.14 L116.07 487.14 L116.70 487.14 L117.32 487.14 L117.95 487.14 L118.57 487.14 L119.19 487.13 L119.81 487.13 L120.42 487.13 L121.04 487.13 L121.65 487.13 L122.26 487.13 L122.87 487.13 L123.48 487.13 L124.09 487.12 L124.69 487.12 L125.29 487.12 L125.89 487.12 L126.49 487.12 L127.09 487.12 L127.68 487.12 L128.27 487.11 L128.86 487.11 L129.45 487.11 L130.03 487.11 L130.61 487.11 L131.19 487.11 L131.77 487.10 L132.34 487.10 L132.91 487.10 L133.48 487.10 L134.04 487.10 L134.61 487.09 L135.17 487.09 L135.73 487.09 L136.28 487.09 L136.83 487.08 L137.38 487.08 L137.93 487.08 L138.47 487.08 L139.01 487.07 L139.54 487.07 L140.08 487.07 L140.61 487.07 L141.13 487.06 L141.66 487.06 L142.18 487.06 L142.69 487.05 L143.21 487.05 L143.71 487.05 L144.22 487.04 L144.72 487.04 L145.22 487.04 L145.72 487.03 L146.21 487.03 L146.70 487.03 L147.18 487.02 L147.66 487.02 L148.14 487.02 L148.61 487.01 L149.08 487.01 L149.54 487.00 L150.00 487.00 L150.74 486.99 L151.49 486.99 L152.22 486.98 L152.96 486.98 L153.68 486.97 L154.41 486.97 L155.13 486.97 L155.85 486.96 L156.56 486.96 L157.27 486.96 L157.97 486.96 L158.67 486.95 L159.36 486.95 L160.05 486.95 L160.73 486.95 L161.41 486.95 L162.08 486.94 L162.75 486.94 L163.41 486.94 L164.06 486.94 L164.71 486.94 L165.36 486.93 L166.00 486.93 L166.63 486.93 L167.26 486.92 L167.88 486.92 L168.49 486.91 L169.10 486.91 L169.70 486.90 L170.29 486.90 L170.88 486.89 L171.46 486.88 L172.04 486.88 L172.60 486.87 L173.16 486.86 L173.72 486.85 L174.26 486.84 L174.80 486.82 L175.33 486.81 L175.85 486.80 L176.37 486.78 L176.87 486.76 L177.37 486.75 L177.86 486.73 L178.34 486.71 L178.82 486.69 L179.29 486.66 L179.74 486.64 L180.19 486.62 L180.63 486.59 L181.06 486.56 L181.49 486.53 L181.90 486.50 L182.68 486.44 L183.42 486.37 L184.13 486.29 L184.79 486.22 L185.43 486.14 L186.04 486.06 L186.63 485.97 L187.20 485.88 L187.75 485.79 L188.29 485.70 L188.83 485.60 L189.35 485.50 L189.87 485.40 L190.40 485.30 L191.10 485.16 L191.78 485.02 L192.42 484.89 L193.05 484.74 L193.66 484.59 L194.27 484.41 L194.88 484.22 L195.50 484.00 L196.08 483.76 L196.66 483.49 L197.23 483.20 L197.80 482.89 L198.37 482.58 L198.94 482.26 L199.50 481.95 L200.05 481.66 L200.60 481.40 L201.22 481.14 L201.85 480.92 L202.47 480.71 L203.08 480.50 L203.67 480.28 L204.25 480.02 L204.80 479.70 L205.34 479.33 L205.87 478.92 L206.38 478.48 L206.87 478.01 L207.33 477.51 L207.78 476.97 L208.20 476.40 L208.53 475.90 L208.83 475.36 L209.12 474.79 L209.39 474.19 L209.65 473.58 L209.90 472.95 L210.14 472.31 L210.36 471.67 L210.58 471.03 L210.80 470.40 L210.99 469.80 L211.17 469.20 L211.34 468.59 L211.49 467.97 L211.64 467.35 L211.78 466.72 L211.92 466.09 L212.06 465.47 L212.20 464.84 L212.35 464.22 L212.50 463.60 L212.65 462.99 L212.80 462.38 L212.95 461.78 L213.09 461.17 L213.24 460.57 L213.38 459.96 L213.53 459.35 L213.69 458.74 L213.85 458.13 L214.02 457.52 L214.20 456.90 L214.37 456.34 L214.55 455.78 L214.73 455.21 L214.92 454.64 L215.11 454.07 L215.31 453.50 L215.51 452.93 L215.71 452.36 L215.91 451.79 L216.11 451.21 L216.31 450.64 L216.51 450.07 L216.70 449.50 L217.45 442.96 L217.85 442.07 L218.25 441.20 L218.65 440.35 L219.05 439.51 L219.45 438.68 L221.45 434.74 L223.45 431.08 L225.45 427.64 L227.45 424.38 L229.45 421.28 L231.45 418.32 L233.45 415.48 L235.45 412.75 L237.45 410.11 L239.45 407.56 L241.45 405.09 L243.45 402.69 L245.45 400.35 L247.45 398.08 L249.45 395.86 L251.45 393.70 L253.45 391.58 L255.45 389.51 L257.45 387.48 L259.45 385.49 L261.45 383.54 L263.45 381.63 L265.45 379.75 L267.45 377.90 L269.45 376.08 L271.45 374.29 L273.45 372.53 L275.45 370.79 L277.45 369.08 L279.45 367.40 L281.45 365.74 L283.45 364.10 L285.45 362.48 L287.45 360.88 L289.45 359.30 L291.45 357.74 L293.45 356.20 L295.45 354.68 L297.45 353.18 L299.45 351.69 L301.45 350.21 L303.45 348.76 L305.45 347.32 L307.45 345.89 L309.45 344.48 L311.45 343.08 L313.45 341.69 L315.45 340.32 L317.45 338.96 L319.45 337.61 L321.45 336.27 L323.45 334.95 L325.45 333.64 L327.45 332.33 L329.45 331.04 L331.45 329.76 L333.45 328.49 L335.45 327.23 L337.45 325.98 L339.45 324.74 L341.45 323.51 L343.45 322.29 L345.45 321.08 L347.45 319.87 L349.45 318.67 L349.45 318.67" stroke="#ff8c00" stroke-width="1.5" stroke-dasharray="1.1 1.0"/>
<path d="M65.45 487.43 L67.45 487.43 L69.45 487.43 L71.45 487.42 L73.45 487.42 L75.45 487.42 L77.45 487.41 L79.45 487.41 L81.45 487.41 L83.45 487.40 L85.45 487.40 L87.45 487.39 L89.45 487.39 L91.45 487.39 L93.45 487.38 L95.45 487.38 L97.45 487.37 L99.45 487.37 L101.45 487.36 L103.45 487.36 L105.45 487.35 L107.45 487.35 L109.45 487.34 L111.45 487.33 L113.45 487.33 L115.45 487.32 L117.45 487.32 L119.45 487.31 L121.45 487.30 L123.45 487.29 L125.45 487.29 L127.45 487.28 L129.45 487.27 L131.45 487.26 L133.45 487.26 L135.45 487.25 L137.45 487.24 L139.45 487.23 L141.45 487.22 L143.45 487.21 L145.45 487.20 L147.45 487.18 L149.45 487.17 L151.45 487.16 L153.45 487.15 L155.45 487.13 L157.45 487.12 L159.45 487.10 L161.45 487.08 L163.45 487.06 L165.45 487.04 L167.45 487.02 L169.45 487.00 L171.45 486.98 L173.45 486.95 L175.45 486.92 L177.45 486.89 L179.45 486.85 L181.45 486.81 L183.45 486.77 L185.45 486.72 L187.45 486.66 L189.45 486.59 L191.45 486.51 L193.45 486.42 L195.45 486.30 L197.45 486.15 L197.85 486.11 L198.25 486.07 L198.65 486.03 L199.05 485.99 L199.45 485.94 L199.85 485.89 L200.25 485.84 L200.65 485.78 L201.05 485.71 L201.45 485.64 L201.85 485.56 L202.25 485.47 L202.65 485.38 L203.05 485.27 L203.45 485.14 L203.85 484.99 L204.25 484.82 L204.65 484.62 L205.05 484.37 L205.45 484.05 L205.85 483.63 L206.25 483.07 L206.65 482.24 L207.05 480.96 L207.45 479.03 L207.85 476.55 L208.25 473.99 L208.65 471.61 L209.05 469.44 L209.45 467.45 L209.85 465.62 L210.25 463.91 L210.65 462.31 L211.05 460.80 L211.45 459.36 L211.85 458.00 L212.25 456.68 L212.65 455.43 L213.05 454.21 L213.45 453.04 L213.85 451.91 L214.25 450.81 L214.65 449.74 L215.05 448.70 L215.45 447.69 L215.85 446.70 L216.25 445.73 L216.65 444.79 L217.05 443.86 L217.45 442.96 L217.85 442.07 L218.25 441.20 L218.65 440.35 L219.05 439.51 L219.45 438.68 L221.45 434.74 L223.45 431.08 L225.45 427.64 L227.45 424.38 L229.45 421.28 L231.45 418.32 L233.45 415.48 L235.45 412.75 L237.45 410.11 L239.45 407.56 L241.45 405.09 L243.45 402.69 L245.45 400.35 L247.45 398.08 L249.45 395.86 L251.45 393.70 L253.45 391.58 L255.45 389.51 L257.45 387.48 L259.45 385.49 L261.45 383.54 L263.45 381.63 L265.45 379.75 L267.45 377.90 L269.45 376.08 L271.45 374.29 L273.45 372.53 L275.45 370.79 L277.45 369.08 L279.45 367.40 L281.45 365.74 L283.45 364.10 L285.45 362.48 L287.45 360.88 L289.45 359.30 L291.45 357.74 L293.45 356.20 L295.45 354.68 L297.45 353.18 L299.45 351.69 L301.45 350.21 L303.45 348.76 L305.45 347.32 L307.45 345.89 L309.45 344.48 L311.45 343.08 L313.45 341.69 L315.45 340.32 L317.45 338.96 L319.45 337.61 L321.45 336.27 L323.45 334.95 L325.45 333.64 L327.45 332.33 L329.45 331.04 L331.45 329.76 L333.45 328.49 L335.45 327.23 L337.45 325.98 L339.45 324.74 L341.45 323.51 L343.45 322.29 L345.45 321.08 L347.45 319.87 L349.45 318.67 L349.45 318.67" stroke="#000000" stroke-width="1.4" stroke-dasharray="3.3 1.5"/>
</g>
<g clip-path="url(#clip_c)" fill="none" stroke-linejoin="round">
<path d="M65.10 713.10 L65.70 712.95 L66.30 712.79 L66.90 712.64 L67.51 712.49 L68.11 712.33 L68.71 712.18 L69.32 712.02 L69.92 711.87 L70.52 711.72 L71.12 711.56 L71.72 711.41 L72.32 711.26 L72.91 711.10 L73.51 710.95 L74.10 710.80 L74.71 710.64 L75.33 710.49 L75.94 710.33 L76.55 710.18 L77.16 710.03 L77.76 709.87 L78.37 709.72 L78.97 709.57 L79.58 709.41 L80.18 709.26 L80.79 709.10 L81.39 708.93 L82.00 708.77 L82.60 708.60 L83.21 708.43 L83.82 708.25 L84.43 708.07 L85.03 707.89 L85.64 707.71 L86.25 707.52 L86.86 707.34 L87.47 707.15 L88.07 706.96 L88.68 706.77 L89.29 706.58 L89.89 706.39 L90.50 706.19 L91.10 706.00 L91.71 705.81 L92.32 705.61 L92.94 705.41 L93.55 705.20 L94.17 705.00 L94.79 704.79 L95.41 704.59 L96.02 704.38 L96.62 704.18 L97.22 703.98 L97.81 703.78 L98.39 703.58 L98.95 703.39 L99.50 703.20 L100.12 702.99 L100.72 702.77 L101.32 702.56 L101.90 702.34 L102.47 702.13 L103.03 701.93 L103.58 701.74 L104.13 701.55 L104.67 701.37 L105.20 701.20 L105.84 701.00 L106.46 700.81 L107.08 700.63 L107.68 700.46 L108.27 700.31 L108.84 700.19 L109.40 700.10 L110.15 700.01 L110.85 699.97 L111.56 700.00 L112.30 700.10 L112.86 700.23 L113.44 700.41 L114.04 700.62 L114.64 700.88 L115.26 701.16 L115.88 701.47 L116.50 701.80 L116.99 702.09 L117.49 702.40 L117.99 702.75 L118.50 703.12 L119.00 703.50 L119.52 703.89 L120.03 704.28 L120.55 704.68 L121.07 705.07 L121.58 705.44 L122.10 705.80 L122.61 706.14 L123.13 706.48 L123.64 706.82 L124.16 707.16 L124.68 707.49 L125.19 707.83 L125.71 708.15 L126.23 708.47 L126.76 708.79 L127.28 709.10 L127.80 709.40 L128.35 709.71 L128.89 710.02 L129.43 710.32 L129.97 710.61 L130.51 710.89 L131.06 711.18 L131.62 711.46 L132.19 711.74 L132.79 712.02 L133.40 712.30 L133.91 712.53 L134.44 712.76 L134.97 712.99 L135.52 713.22 L136.08 713.45 L136.65 713.68 L137.23 713.91 L137.81 714.14 L138.40 714.36 L138.98 714.58 L139.57 714.79 L140.16 715.01 L140.74 715.21 L141.32 715.41 L141.90 715.60 L142.50 715.79 L143.10 715.98 L143.70 716.17 L144.30 716.34 L144.90 716.52 L145.50 716.69 L146.10 716.85 L146.71 717.01 L147.31 717.17 L147.92 717.32 L148.54 717.47 L149.15 717.61 L149.77 717.76 L150.40 717.90 L150.98 718.03 L151.57 718.15 L152.17 718.28 L152.77 718.39 L153.37 718.51 L153.98 718.62 L154.59 718.74 L155.20 718.84 L155.81 718.95 L156.42 719.05 L157.03 719.15 L157.63 719.25 L158.23 719.34 L158.83 719.43 L159.42 719.52 L160.00 719.60 L160.64 719.69 L161.27 719.78 L161.89 719.86 L162.49 719.94 L163.09 720.01 L163.70 720.08 L164.30 720.15 L164.91 720.22 L165.53 720.28 L166.17 720.34 L166.82 720.39 L167.50 720.45 L168.20 720.50 L168.74 720.54 L169.29 720.57 L169.86 720.60 L170.44 720.64 L171.03 720.66 L171.63 720.69 L172.24 720.72 L172.85 720.74 L173.48 720.76 L174.11 720.78 L174.74 720.80 L175.38 720.82 L176.02 720.84 L176.67 720.85 L177.31 720.87 L177.96 720.89 L178.60 720.90 L179.24 720.92 L179.88 720.93 L180.52 720.95 L181.15 720.97 L181.78 720.98 L182.40 721.00 L183.01 721.02 L183.63 721.03 L184.24 721.05 L184.85 721.07 L185.47 721.08 L186.08 721.10 L186.69 721.12 L187.31 721.13 L187.92 721.15 L188.53 721.16 L189.15 721.17 L189.76 721.19 L190.37 721.20 L190.98 721.21 L191.60 721.23 L192.21 721.24 L192.82 721.25 L193.44 721.26 L194.05 721.27 L194.66 721.28 L195.27 721.29 L195.89 721.29 L196.50 721.30 L197.11 721.31 L197.73 721.31 L198.34 721.32 L198.95 721.32 L199.57 721.32 L200.18 721.32 L200.79 721.33 L201.40 721.33 L202.02 721.33 L202.63 721.33 L203.24 721.33 L203.86 721.32 L204.47 721.32 L205.08 721.32 L205.70 721.32 L206.31 721.32 L206.92 721.31 L207.53 721.31 L208.15 721.31 L208.76 721.31 L209.37 721.30 L209.99 721.30 L210.60 721.30 L211.21 721.30 L211.82 721.30 L212.43 721.30 L213.05 721.29 L213.65 721.29 L214.26 721.29 L214.87 721.29 L215.48 721.29 L216.09 721.29 L216.70 721.29 L217.31 721.29 L217.92 721.28 L218.53 721.28 L219.14 721.28 L219.75 721.27 L220.37 721.27 L220.98 721.26 L221.60 721.25 L222.21 721.25 L222.83 721.24 L223.45 721.23 L224.08 721.21 L224.70 721.20 L225.30 721.19 L225.91 721.17 L226.52 721.15 L227.13 721.14 L227.74 721.12 L228.36 721.10 L228.98 721.08 L229.60 721.06 L230.22 721.04 L230.84 721.02 L231.46 720.99 L232.08 720.97 L232.70 720.94 L233.33 720.92 L233.95 720.89 L234.56 720.87 L235.18 720.84 L235.79 720.81 L236.41 720.78 L237.01 720.75 L237.62 720.72 L238.22 720.69 L238.82 720.66 L239.41 720.63 L240.00 720.60 L240.64 720.57 L241.27 720.53 L241.90 720.50 L242.53 720.46 L243.15 720.43 L243.77 720.40 L244.38 720.36 L245.00 720.33 L245.61 720.29 L246.22 720.25 L246.83 720.21 L247.43 720.17 L248.04 720.13 L248.65 720.09 L249.25 720.04 L249.86 719.99 L250.46 719.94 L251.07 719.88 L251.68 719.83 L252.29 719.76 L252.90 719.70 L253.52 719.63 L254.15 719.56 L254.79 719.49 L255.43 719.42 L256.08 719.35 L256.73 719.27 L257.38 719.19 L258.03 719.11 L258.68 719.03 L259.32 718.94 L259.97 718.85 L260.60 718.76 L261.23 718.67 L261.85 718.57 L262.46 718.47 L263.05 718.37 L263.64 718.26 L264.20 718.15 L264.75 718.04 L265.29 717.92 L265.80 717.80 L266.48 717.63 L267.13 717.45 L267.75 717.27 L268.35 717.08 L268.94 716.89 L269.50 716.69 L270.06 716.48 L270.60 716.27 L271.14 716.05 L271.67 715.83 L272.20 715.60 L272.78 715.35 L273.36 715.10 L273.94 714.84 L274.50 714.58 L275.05 714.31 L275.58 714.02 L276.08 713.71 L276.56 713.37 L277.00 713.00 L277.44 712.57 L277.85 712.10 L278.24 711.62 L278.59 711.10 L278.92 710.56 L279.23 710.00 L279.52 709.41 L279.80 708.80 L280.01 708.29 L280.19 707.77 L280.36 707.23 L280.52 706.68 L280.66 706.11 L280.79 705.53 L280.91 704.93 L281.03 704.31 L281.15 703.68 L281.26 703.04 L281.38 702.38 L281.50 701.70 L281.59 701.17 L281.68 700.63 L281.77 700.08 L281.85 699.51 L281.94 698.93 L282.02 698.34 L282.10 697.74 L282.17 697.14 L282.25 696.52 L282.32 695.90 L282.39 695.27 L282.47 694.64 L282.54 694.00 L282.61 693.35 L282.68 692.71 L282.75 692.06 L282.82 691.40 L282.89 690.75 L282.96 690.10 L283.03 689.45 L283.10 688.80 L283.16 688.21 L283.23 687.62 L283.29 687.02 L283.35 686.42 L283.41 685.82 L283.47 685.21 L283.53 684.59 L283.59 683.98 L283.64 683.36 L283.70 682.74 L283.76 682.11 L283.82 681.49 L283.88 680.86 L283.93 680.23 L283.99 679.60 L284.05 678.97 L284.11 678.34 L284.17 677.71 L284.23 677.08 L284.29 676.45 L284.36 675.82 L284.42 675.19 L284.49 674.57 L284.56 673.94 L284.63 673.32 L284.70 672.70 L284.77 672.10 L284.84 671.51 L284.91 670.91 L284.98 670.31 L285.06 669.72 L285.13 669.12 L285.20 668.52 L285.27 667.92 L285.35 667.33 L285.42 666.73 L285.50 666.13 L285.58 665.54 L285.66 664.94 L285.74 664.34 L285.82 663.75 L285.90 663.15 L285.98 662.55 L286.06 661.96 L286.15 661.36 L286.24 660.77 L286.33 660.17 L286.42 659.58 L286.51 658.98 L286.60 658.38 L286.70 657.79 L286.80 657.19 L286.90 656.60 L287.00 656.00 L287.11 655.40 L287.21 654.80 L287.32 654.19 L287.43 653.58 L287.53 652.97 L287.64 652.37 L287.76 651.76 L287.87 651.15 L287.98 650.54 L288.10 649.93 L288.22 649.32 L288.34 648.71 L288.46 648.11 L288.58 647.50 L288.71 646.90 L288.83 646.30 L288.96 645.70 L289.09 645.11 L289.22 644.52 L289.36 643.93 L289.49 643.35 L289.63 642.77 L289.77 642.19 L289.91 641.62 L290.05 641.06 L290.20 640.50 L290.36 639.89 L290.52 639.29 L290.69 638.69 L290.85 638.10 L291.02 637.51 L291.18 636.93 L291.35 636.35 L291.52 635.77 L291.70 635.20 L291.87 634.63 L292.05 634.07 L292.23 633.50 L292.42 632.94 L292.61 632.38 L292.80 631.82 L293.00 631.26 L293.20 630.70 L293.41 630.15 L293.62 629.59 L293.84 629.03 L294.07 628.46 L294.30 627.90 L294.54 627.34 L294.78 626.78 L295.02 626.21 L295.27 625.65 L295.53 625.08 L295.79 624.52 L296.06 623.95 L296.33 623.39 L296.60 622.82 L296.88 622.26 L297.16 621.70 L297.45 621.14 L297.74 620.58 L298.03 620.03 L298.33 619.48 L298.63 618.93 L298.93 618.38 L299.23 617.84 L299.54 617.30 L299.85 616.77 L300.17 616.24 L300.48 615.72 L300.80 615.20 L301.14 614.66 L301.48 614.13 L301.82 613.60 L302.17 613.08 L302.53 612.56 L302.88 612.05 L303.24 611.54 L303.60 611.03 L303.97 610.53 L304.34 610.03 L304.71 609.53 L305.09 609.03 L305.47 608.54 L305.85 608.05 L306.24 607.56 L306.62 607.06 L307.01 606.57 L307.41 606.08 L307.80 605.59 L308.20 605.09 L308.60 604.60 L308.98 604.13 L309.37 603.66 L309.76 603.18 L310.15 602.71 L310.54 602.23 L310.94 601.75 L311.34 601.28 L311.74 600.80 L312.15 600.32 L312.56 599.85 L312.97 599.38 L313.38 598.91 L313.79 598.44 L314.21 597.98 L314.63 597.52 L315.05 597.06 L315.46 596.61 L315.89 596.16 L316.31 595.71 L316.73 595.28 L317.15 594.84 L317.58 594.42 L318.00 594.00 L318.46 593.56 L318.92 593.12 L319.38 592.69 L319.84 592.27 L320.31 591.86 L320.77 591.44 L321.24 591.04 L321.71 590.64 L322.18 590.24 L322.66 589.84 L323.13 589.45 L323.61 589.06 L324.08 588.68 L324.55 588.29 L325.03 587.91 L325.51 587.53 L325.98 587.14 L326.45 586.76 L326.93 586.38 L327.40 586.00 L327.88 585.61 L328.36 585.23 L328.83 584.85 L329.30 584.48 L329.77 584.10 L330.24 583.74 L330.71 583.37 L331.18 583.00 L331.65 582.64 L332.13 582.28 L332.60 581.91 L333.08 581.55 L333.57 581.18 L334.06 580.81 L334.55 580.43 L335.05 580.06 L335.56 579.68 L336.08 579.29 L336.60 578.90 L337.06 578.56 L337.52 578.22 L337.98 577.88 L338.46 577.53 L338.94 577.18 L339.42 576.83 L339.91 576.47 L340.40 576.12 L340.89 575.76 L341.39 575.40 L341.90 575.04 L342.40 574.68 L342.91 574.32 L343.41 573.95 L343.92 573.59 L344.43 573.23 L344.94 572.86 L345.46 572.50 L345.97 572.13 L346.48 571.77 L346.98 571.40 L347.49 571.04 L348.00 570.68 L348.50 570.32 L349.00 569.96 L349.50 569.60" stroke="#ff0000" stroke-width="1.4"/>
<path d="M65.10 724.10 L65.70 724.07 L66.31 724.05 L66.91 724.02 L67.52 723.99 L68.12 723.97 L68.73 723.94 L69.33 723.92 L69.94 723.89 L70.54 723.87 L71.15 723.84 L71.75 723.82 L72.36 723.79 L72.96 723.76 L73.57 723.74 L74.17 723.71 L74.78 723.69 L75.38 723.66 L75.99 723.63 L76.59 723.61 L77.19 723.58 L77.80 723.55 L78.40 723.52 L79.00 723.49 L79.60 723.46 L80.20 723.43 L80.80 723.40 L81.40 723.37 L82.00 723.33 L82.60 723.30 L83.21 723.26 L83.82 723.23 L84.42 723.19 L85.03 723.16 L85.64 723.12 L86.24 723.08 L86.85 723.04 L87.45 723.01 L88.05 722.97 L88.66 722.93 L89.26 722.89 L89.86 722.85 L90.47 722.81 L91.07 722.77 L91.67 722.73 L92.27 722.68 L92.87 722.64 L93.48 722.60 L94.08 722.55 L94.68 722.51 L95.28 722.46 L95.88 722.41 L96.49 722.36 L97.09 722.31 L97.69 722.26 L98.29 722.21 L98.90 722.15 L99.50 722.10 L100.11 722.04 L100.72 721.99 L101.33 721.93 L101.94 721.88 L102.56 721.82 L103.17 721.76 L103.79 721.70 L104.41 721.65 L105.02 721.59 L105.64 721.53 L106.26 721.47 L106.87 721.40 L107.49 721.34 L108.11 721.28 L108.72 721.21 L109.33 721.14 L109.94 721.07 L110.55 721.00 L111.16 720.93 L111.77 720.86 L112.37 720.78 L112.97 720.71 L113.57 720.63 L114.16 720.55 L114.75 720.46 L115.34 720.38 L115.92 720.29 L116.50 720.20 L117.14 720.10 L117.78 719.99 L118.42 719.88 L119.06 719.77 L119.69 719.65 L120.32 719.54 L120.95 719.42 L121.58 719.30 L122.20 719.17 L122.82 719.05 L123.44 718.92 L124.05 718.79 L124.66 718.66 L125.27 718.53 L125.87 718.39 L126.48 718.26 L127.08 718.12 L127.67 717.99 L128.26 717.85 L128.85 717.71 L129.44 717.58 L130.02 717.44 L130.60 717.30 L131.23 717.15 L131.86 716.99 L132.49 716.84 L133.12 716.68 L133.74 716.52 L134.36 716.36 L134.98 716.20 L135.59 716.03 L136.20 715.87 L136.81 715.71 L137.40 715.54 L138.00 715.37 L138.58 715.21 L139.16 715.04 L139.72 714.87 L140.28 714.70 L140.83 714.53 L141.37 714.37 L141.90 714.20 L142.55 713.98 L143.19 713.76 L143.80 713.54 L144.40 713.31 L144.99 713.08 L145.57 712.85 L146.14 712.62 L146.71 712.40 L147.28 712.19 L147.85 711.98 L148.42 711.78 L149.00 711.60 L149.60 711.42 L150.21 711.24 L150.82 711.06 L151.43 710.88 L152.04 710.72 L152.64 710.56 L153.24 710.42 L153.82 710.29 L154.40 710.17 L154.96 710.08 L155.50 710.00 L156.16 709.93 L156.79 709.89 L157.40 709.88 L158.01 709.88 L158.60 709.91 L159.20 709.95 L159.80 710.00 L160.41 710.06 L161.01 710.14 L161.62 710.23 L162.22 710.34 L162.81 710.47 L163.41 710.62 L164.00 710.80 L164.60 711.02 L165.20 711.27 L165.78 711.55 L166.37 711.85 L166.96 712.17 L167.57 712.48 L168.20 712.80 L168.74 713.06 L169.28 713.34 L169.85 713.62 L170.42 713.91 L170.99 714.20 L171.58 714.49 L172.16 714.78 L172.74 715.06 L173.32 715.34 L173.90 715.60 L174.46 715.85 L175.01 716.10 L175.57 716.35 L176.13 716.59 L176.69 716.83 L177.24 717.06 L177.80 717.29 L178.37 717.50 L178.93 717.71 L179.50 717.90 L180.12 718.10 L180.73 718.28 L181.34 718.44 L181.95 718.60 L182.57 718.75 L183.20 718.89 L183.85 719.03 L184.51 719.17 L185.20 719.30 L185.75 719.40 L186.32 719.51 L186.91 719.61 L187.50 719.71 L188.11 719.81 L188.72 719.91 L189.34 720.00 L189.97 720.09 L190.59 720.18 L191.22 720.25 L191.85 720.33 L192.47 720.39 L193.09 720.45 L193.70 720.50 L194.30 720.54 L194.91 720.58 L195.53 720.61 L196.15 720.63 L196.77 720.65 L197.39 720.67 L198.00 720.67 L198.62 720.68 L199.22 720.68 L199.82 720.67 L200.41 720.66 L200.99 720.64 L201.55 720.62 L202.10 720.60 L202.78 720.56 L203.43 720.52 L204.05 720.46 L204.67 720.40 L205.28 720.33 L205.89 720.25 L206.50 720.17 L207.14 720.09 L207.80 720.00 L208.39 719.91 L208.98 719.81 L209.58 719.70 L210.18 719.58 L210.79 719.46 L211.41 719.34 L212.04 719.22 L212.67 719.11 L213.32 719.01 L213.97 718.92 L214.63 718.85 L215.30 718.80 L215.86 718.78 L216.44 718.77 L217.03 718.78 L217.63 718.80 L218.24 718.84 L218.86 718.88 L219.49 718.92 L220.11 718.97 L220.74 719.03 L221.37 719.08 L221.99 719.13 L222.60 719.18 L223.21 719.22 L223.80 719.26 L224.38 719.28 L224.95 719.30 L225.50 719.30 L226.17 719.29 L226.84 719.28 L227.48 719.26 L228.12 719.24 L228.75 719.21 L229.36 719.17 L229.97 719.13 L230.56 719.07 L231.15 718.99 L231.73 718.90 L232.30 718.80 L232.99 718.65 L233.67 718.49 L234.34 718.30 L234.99 718.10 L235.62 717.88 L236.24 717.64 L236.83 717.38 L237.40 717.10 L237.95 716.80 L238.48 716.49 L238.99 716.17 L239.47 715.82 L239.94 715.44 L240.38 715.04 L240.80 714.60 L241.18 714.15 L241.54 713.66 L241.89 713.15 L242.21 712.62 L242.52 712.06 L242.80 711.48 L243.06 710.90 L243.30 710.30 L243.49 709.76 L243.65 709.22 L243.80 708.66 L243.92 708.08 L244.04 707.50 L244.14 706.90 L244.23 706.29 L244.32 705.67 L244.41 705.04 L244.50 704.40 L244.57 703.84 L244.64 703.27 L244.70 702.68 L244.76 702.09 L244.81 701.48 L244.86 700.87 L244.91 700.25 L244.95 699.62 L244.99 699.00 L245.03 698.37 L245.07 697.75 L245.11 697.13 L245.15 696.51 L245.20 695.90 L245.25 695.30 L245.29 694.70 L245.33 694.11 L245.37 693.52 L245.41 692.93 L245.45 692.34 L245.49 691.75 L245.53 691.15 L245.57 690.56 L245.62 689.96 L245.66 689.35 L245.70 688.74 L245.75 688.12 L245.80 687.50 L245.85 686.93 L245.89 686.34 L245.94 685.76 L245.99 685.17 L246.04 684.57 L246.09 683.97 L246.14 683.37 L246.19 682.76 L246.24 682.16 L246.30 681.55 L246.35 680.94 L246.41 680.33 L246.46 679.72 L246.52 679.11 L246.58 678.51 L246.64 677.90 L246.70 677.30 L246.76 676.70 L246.82 676.09 L246.89 675.49 L246.95 674.88 L247.01 674.27 L247.07 673.66 L247.14 673.05 L247.21 672.44 L247.27 671.83 L247.34 671.23 L247.41 670.63 L247.49 670.03 L247.56 669.43 L247.64 668.84 L247.73 668.25 L247.81 667.67 L247.90 667.10 L248.00 666.47 L248.10 665.84 L248.21 665.21 L248.31 664.59 L248.42 663.97 L248.53 663.36 L248.65 662.75 L248.77 662.15 L248.89 661.55 L249.02 660.95 L249.16 660.36 L249.30 659.77 L249.44 659.18 L249.60 658.60 L249.77 658.01 L249.94 657.42 L250.12 656.83 L250.30 656.25 L250.49 655.67 L250.68 655.09 L250.88 654.52 L251.09 653.95 L251.30 653.39 L251.52 652.83 L251.74 652.28 L251.97 651.74 L252.20 651.20 L252.47 650.61 L252.74 650.02 L253.03 649.45 L253.32 648.88 L253.62 648.32 L253.92 647.76 L254.23 647.21 L254.55 646.66 L254.86 646.11 L255.18 645.55 L255.50 645.00 L255.82 644.44 L256.14 643.89 L256.47 643.35 L256.79 642.81 L257.12 642.27 L257.46 641.73 L257.80 641.18 L258.16 640.63 L258.52 640.06 L258.90 639.49 L259.30 638.90 L259.61 638.44 L259.93 637.98 L260.27 637.50 L260.61 637.02 L260.95 636.53 L261.31 636.03 L261.67 635.53 L262.04 635.02 L262.41 634.52 L262.79 634.01 L263.16 633.51 L263.54 633.00 L263.92 632.50 L264.30 632.00 L264.68 631.50 L265.06 631.02 L265.43 630.54 L265.80 630.06 L266.19 629.57 L266.58 629.08 L266.96 628.60 L267.35 628.12 L267.73 627.65 L268.11 627.18 L268.50 626.71 L268.88 626.25 L269.27 625.78 L269.67 625.32 L270.07 624.85 L270.48 624.38 L270.89 623.90 L271.32 623.42 L271.75 622.93 L272.20 622.44 L272.58 622.02 L272.96 621.61 L273.35 621.18 L273.75 620.76 L274.15 620.33 L274.56 619.90 L274.98 619.47 L275.40 619.03 L275.83 618.60 L276.25 618.16 L276.69 617.72 L277.12 617.28 L277.56 616.84 L277.99 616.40 L278.43 615.96 L278.87 615.52 L279.31 615.08 L279.75 614.64 L280.18 614.20 L280.62 613.77 L281.05 613.33 L281.48 612.90 L281.90 612.47 L282.34 612.03 L282.78 611.58 L283.23 611.12 L283.68 610.65 L284.13 610.18 L284.59 609.71 L285.04 609.23 L285.50 608.76 L285.96 608.29 L286.41 607.82 L286.87 607.36 L287.32 606.90 L287.76 606.44 L288.20 606.00 L288.64 605.57 L289.07 605.15 L289.50 604.74 L289.92 604.34 L290.33 603.96 L290.73 603.60 L291.12 603.26 L291.50 602.93 L292.10 602.45 L292.69 602.01 L293.26 601.61 L293.82 601.24 L294.37 600.89 L294.90 600.55 L295.41 600.22 L295.91 599.87 L296.40 599.52 L296.96 599.07 L297.47 598.64 L297.96 598.22 L298.45 597.78 L298.99 597.32 L299.60 596.80 L299.97 596.50 L300.37 596.18 L300.78 595.84 L301.21 595.49 L301.66 595.13 L302.12 594.76 L302.59 594.39 L303.07 594.00 L303.56 593.61 L304.06 593.22 L304.57 592.82 L305.07 592.42 L305.58 592.02 L306.09 591.62 L306.60 591.22 L307.10 590.83 L307.60 590.44 L308.07 590.08 L308.54 589.70 L309.03 589.32 L309.52 588.92 L310.02 588.52 L310.53 588.12 L311.04 587.71 L311.55 587.31 L312.06 586.90 L312.57 586.50 L313.08 586.10 L313.58 585.71 L314.08 585.33 L314.57 584.96 L315.06 584.61 L315.53 584.27 L315.99 583.94 L316.44 583.64 L316.88 583.35 L317.30 583.09 L317.97 582.71 L318.62 582.40 L319.25 582.14 L319.87 581.90 L320.46 581.67 L321.03 581.42 L321.57 581.14 L322.10 580.81 L322.60 580.42 L323.03 580.01 L323.43 579.57 L323.83 579.12 L324.25 578.64 L324.73 578.15 L325.30 577.63 L325.65 577.34 L326.02 577.04 L326.41 576.73 L326.82 576.42 L327.26 576.09 L327.71 575.76 L328.18 575.42 L328.66 575.07 L329.16 574.71 L329.66 574.36 L330.18 573.99 L330.71 573.63 L331.24 573.26 L331.78 572.89 L332.32 572.52 L332.86 572.14 L333.41 571.77 L333.95 571.40 L334.49 571.03 L335.03 570.66 L335.56 570.30 L336.09 569.94 L336.60 569.58 L337.10 569.24 L337.60 568.89 L338.10 568.55 L338.61 568.20 L339.12 567.86 L339.63 567.51 L340.14 567.17 L340.66 566.82 L341.17 566.47 L341.69 566.12 L342.21 565.78 L342.73 565.43 L343.25 565.08 L343.77 564.73 L344.29 564.38 L344.82 564.04 L345.34 563.69 L345.86 563.34 L346.38 562.99 L346.90 562.64 L347.43 562.29 L347.95 561.95 L348.47 561.60 L348.98 561.25 L349.50 560.90" stroke="#0000ff" stroke-width="1.55" stroke-dasharray="9.0 1.4"/>
<path d="M65.10 726.40 L65.70 726.39 L66.31 726.37 L66.91 726.36 L67.52 726.34 L68.12 726.33 L68.73 726.32 L69.34 726.30 L69.95 726.29 L70.56 726.28 L71.17 726.27 L71.79 726.25 L72.40 726.24 L73.01 726.23 L73.63 726.22 L74.24 726.21 L74.86 726.20 L75.47 726.18 L76.09 726.17 L76.70 726.16 L77.32 726.15 L77.93 726.14 L78.55 726.13 L79.16 726.11 L79.78 726.10 L80.39 726.09 L81.01 726.08 L81.62 726.07 L82.24 726.06 L82.85 726.04 L83.46 726.03 L84.08 726.02 L84.69 726.01 L85.30 726.00 L85.91 725.98 L86.52 725.97 L87.13 725.96 L87.74 725.94 L88.34 725.93 L88.95 725.92 L89.55 725.90 L90.15 725.89 L90.75 725.87 L91.35 725.86 L91.95 725.84 L92.55 725.83 L93.15 725.81 L93.74 725.80 L94.33 725.78 L94.92 725.76 L95.51 725.75 L96.10 725.73 L96.68 725.71 L97.26 725.69 L97.84 725.67 L98.42 725.65 L99.00 725.63 L99.57 725.61 L100.14 725.59 L100.71 725.57 L101.28 725.55 L101.84 725.52 L102.40 725.50 L103.04 725.47 L103.69 725.45 L104.34 725.42 L104.99 725.39 L105.65 725.36 L106.30 725.34 L106.96 725.31 L107.62 725.28 L108.27 725.25 L108.93 725.22 L109.59 725.19 L110.25 725.16 L110.91 725.13 L111.56 725.10 L112.22 725.07 L112.88 725.04 L113.53 725.01 L114.18 724.98 L114.83 724.95 L115.47 724.92 L116.11 724.88 L116.75 724.85 L117.38 724.82 L118.01 724.78 L118.64 724.75 L119.26 724.71 L119.87 724.68 L120.48 724.64 L121.09 724.60 L121.69 724.56 L122.28 724.53 L122.86 724.49 L123.44 724.45 L124.01 724.41 L124.57 724.36 L125.13 724.32 L125.67 724.28 L126.21 724.24 L126.74 724.19 L127.26 724.14 L127.77 724.10 L128.27 724.05 L128.76 724.00 L129.23 723.95 L129.70 723.90 L130.16 723.85 L130.60 723.80 L131.37 723.70 L132.10 723.60 L132.80 723.50 L133.45 723.39 L134.08 723.28 L134.69 723.17 L135.28 723.06 L135.86 722.94 L136.43 722.83 L136.99 722.71 L137.57 722.59 L138.15 722.47 L138.74 722.35 L139.36 722.22 L140.00 722.10 L140.57 721.99 L141.15 721.88 L141.73 721.77 L142.31 721.66 L142.90 721.54 L143.49 721.42 L144.09 721.31 L144.68 721.19 L145.28 721.07 L145.89 720.95 L146.49 720.83 L147.09 720.71 L147.70 720.59 L148.30 720.47 L148.90 720.36 L149.50 720.24 L150.10 720.13 L150.70 720.01 L151.30 719.90 L151.90 719.79 L152.50 719.68 L153.10 719.57 L153.71 719.46 L154.31 719.35 L154.92 719.24 L155.53 719.13 L156.14 719.02 L156.75 718.92 L157.35 718.81 L157.95 718.70 L158.55 718.60 L159.15 718.49 L159.74 718.39 L160.33 718.29 L160.90 718.19 L161.48 718.09 L162.04 718.00 L162.60 717.90 L163.25 717.79 L163.89 717.69 L164.52 717.59 L165.14 717.50 L165.76 717.41 L166.38 717.32 L166.98 717.23 L167.58 717.14 L168.18 717.05 L168.77 716.95 L169.36 716.85 L169.94 716.74 L170.52 716.62 L171.10 716.50 L171.72 716.35 L172.33 716.19 L172.94 716.01 L173.55 715.82 L174.15 715.62 L174.75 715.43 L175.34 715.24 L175.91 715.06 L176.48 714.89 L177.03 714.74 L177.58 714.61 L178.10 714.50 L178.76 714.39 L179.38 714.29 L179.98 714.22 L180.57 714.17 L181.16 714.15 L181.77 714.16 L182.40 714.20 L182.99 714.27 L183.60 714.37 L184.22 714.50 L184.85 714.65 L185.48 714.82 L186.11 715.00 L186.75 715.20 L187.38 715.40 L188.00 715.60 L188.57 715.80 L189.15 716.01 L189.72 716.23 L190.29 716.47 L190.86 716.71 L191.42 716.96 L191.99 717.20 L192.56 717.44 L193.13 717.68 L193.70 717.90 L194.32 718.14 L194.94 718.39 L195.56 718.64 L196.18 718.88 L196.80 719.12 L197.42 719.35 L198.04 719.55 L198.67 719.74 L199.30 719.90 L199.92 720.03 L200.53 720.15 L201.14 720.25 L201.76 720.33 L202.38 720.40 L203.01 720.45 L203.66 720.48 L204.32 720.50 L205.00 720.50 L205.55 720.49 L206.12 720.45 L206.71 720.41 L207.30 720.35 L207.91 720.27 L208.53 720.19 L209.15 720.10 L209.77 720.01 L210.39 719.92 L211.01 719.82 L211.62 719.73 L212.23 719.65 L212.82 719.57 L213.40 719.50 L214.07 719.44 L214.74 719.38 L215.42 719.34 L216.09 719.30 L216.76 719.26 L217.41 719.22 L218.05 719.17 L218.68 719.11 L219.28 719.03 L219.85 718.93 L220.40 718.80 L221.13 718.59 L221.82 718.37 L222.47 718.12 L223.08 717.83 L223.66 717.49 L224.20 717.10 L224.64 716.72 L225.05 716.29 L225.43 715.83 L225.79 715.34 L226.12 714.82 L226.42 714.27 L226.70 713.70 L226.91 713.20 L227.09 712.67 L227.24 712.11 L227.38 711.54 L227.50 710.95 L227.60 710.34 L227.70 709.72 L227.80 709.08 L227.90 708.45 L228.00 707.80 L228.09 707.24 L228.17 706.67 L228.24 706.09 L228.31 705.49 L228.38 704.88 L228.44 704.27 L228.50 703.65 L228.56 703.03 L228.61 702.40 L228.67 701.78 L228.73 701.15 L228.78 700.53 L228.84 699.91 L228.90 699.30 L228.96 698.69 L229.02 698.09 L229.07 697.48 L229.12 696.87 L229.18 696.26 L229.23 695.65 L229.28 695.05 L229.33 694.44 L229.39 693.83 L229.44 693.22 L229.50 692.62 L229.57 692.01 L229.63 691.40 L229.70 690.80 L229.77 690.20 L229.85 689.60 L229.93 689.00 L230.01 688.40 L230.10 687.80 L230.18 687.20 L230.27 686.60 L230.36 686.00 L230.45 685.40 L230.54 684.80 L230.63 684.20 L230.72 683.60 L230.81 683.00 L230.90 682.40 L230.99 681.79 L231.08 681.18 L231.16 680.56 L231.25 679.95 L231.34 679.33 L231.42 678.71 L231.51 678.09 L231.60 677.47 L231.70 676.86 L231.79 676.26 L231.89 675.66 L231.99 675.06 L232.09 674.48 L232.20 673.90 L232.33 673.25 L232.45 672.61 L232.58 671.98 L232.71 671.36 L232.84 670.75 L232.98 670.13 L233.13 669.53 L233.28 668.92 L233.44 668.32 L233.61 667.71 L233.80 667.10 L233.98 666.53 L234.18 665.95 L234.37 665.38 L234.58 664.81 L234.79 664.24 L235.02 663.67 L235.24 663.10 L235.48 662.54 L235.72 661.98 L235.98 661.41 L236.23 660.86 L236.50 660.30 L236.78 659.73 L237.08 659.17 L237.39 658.60 L237.70 658.04 L238.03 657.49 L238.36 656.93 L238.69 656.37 L239.03 655.82 L239.38 655.27 L239.72 654.71 L240.06 654.16 L240.40 653.60 L240.72 653.08 L241.03 652.55 L241.35 652.03 L241.67 651.51 L241.99 650.98 L242.31 650.46 L242.63 649.94 L242.96 649.41 L243.29 648.89 L243.63 648.37 L243.98 647.85 L244.34 647.32 L244.70 646.80 L245.05 646.31 L245.40 645.83 L245.76 645.34 L246.12 644.85 L246.49 644.37 L246.87 643.88 L247.25 643.40 L247.63 642.91 L248.02 642.42 L248.41 641.94 L248.81 641.45 L249.20 640.96 L249.60 640.47 L250.00 639.99 L250.40 639.50 L250.79 639.02 L251.19 638.55 L251.58 638.08 L251.98 637.61 L252.38 637.15 L252.79 636.68 L253.19 636.21 L253.60 635.74 L254.01 635.27 L254.43 634.79 L254.85 634.32 L255.27 633.83 L255.69 633.34 L256.13 632.85 L256.56 632.35 L257.00 631.84 L257.37 631.41 L257.74 630.97 L258.12 630.52 L258.49 630.08 L258.87 629.62 L259.25 629.17 L259.63 628.71 L260.01 628.24 L260.40 627.78 L260.78 627.31 L261.18 626.84 L261.57 626.37 L261.97 625.90 L262.38 625.42 L262.79 624.95 L263.20 624.47 L263.62 624.00 L264.04 623.52 L264.47 623.05 L264.91 622.58 L265.35 622.10 L265.80 621.64 L266.19 621.23 L266.59 620.83 L267.00 620.42 L267.41 620.01 L267.83 619.60 L268.25 619.20 L268.68 618.79 L269.11 618.38 L269.54 617.96 L269.98 617.55 L270.43 617.14 L270.87 616.73 L271.32 616.32 L271.77 615.91 L272.23 615.50 L272.68 615.09 L273.14 614.68 L273.59 614.27 L274.05 613.86 L274.51 613.45 L274.97 613.04 L275.43 612.63 L275.88 612.23 L276.34 611.82 L276.80 611.42 L277.25 611.01 L277.70 610.61 L278.15 610.21 L278.60 609.81 L279.06 609.41 L279.51 609.00 L279.97 608.60 L280.43 608.19 L280.89 607.79 L281.34 607.38 L281.80 606.98 L282.26 606.58 L282.72 606.17 L283.18 605.77 L283.64 605.37 L284.10 604.97 L284.56 604.57 L285.02 604.17 L285.48 603.78 L285.94 603.38 L286.40 602.99 L286.86 602.59 L287.33 602.20 L287.79 601.81 L288.25 601.42 L288.71 601.03 L289.18 600.64 L289.64 600.25 L290.11 599.86 L290.57 599.48 L291.03 599.10 L291.50 598.71 L291.97 598.33 L292.45 597.94 L292.92 597.56 L293.39 597.17 L293.87 596.79 L294.34 596.41 L294.82 596.03 L295.29 595.65 L295.77 595.27 L296.25 594.89 L296.72 594.51 L297.20 594.14 L297.68 593.76 L298.15 593.39 L298.63 593.02 L299.11 592.65 L299.59 592.28 L300.07 591.91 L300.55 591.55 L301.03 591.18 L301.51 590.82 L301.99 590.46 L302.47 590.10 L302.95 589.74 L303.43 589.39 L303.92 589.03 L304.40 588.68 L304.91 588.31 L305.42 587.94 L305.93 587.58 L306.45 587.22 L306.96 586.86 L307.47 586.51 L307.99 586.15 L308.50 585.80 L309.02 585.45 L309.53 585.10 L310.05 584.75 L310.57 584.41 L311.09 584.06 L311.60 583.72 L312.12 583.37 L312.64 583.03 L313.16 582.69 L313.67 582.35 L314.19 582.00 L314.71 581.66 L315.23 581.32 L315.75 580.98 L316.26 580.64 L316.78 580.29 L317.30 579.95 L317.81 579.61 L318.32 579.27 L318.83 578.94 L319.33 578.60 L319.83 578.27 L320.33 577.94 L320.83 577.61 L321.33 577.28 L321.83 576.95 L322.32 576.62 L322.82 576.29 L323.32 575.96 L323.83 575.63 L324.33 575.30 L324.84 574.97 L325.35 574.64 L325.87 574.30 L326.39 573.97 L326.91 573.63 L327.45 573.28 L327.98 572.94 L328.53 572.59 L329.08 572.24 L329.63 571.88 L330.20 571.52 L330.67 571.22 L331.15 570.92 L331.63 570.62 L332.11 570.31 L332.61 570.00 L333.10 569.69 L333.60 569.38 L334.11 569.07 L334.62 568.75 L335.13 568.43 L335.64 568.11 L336.16 567.79 L336.69 567.47 L337.21 567.15 L337.74 566.82 L338.27 566.50 L338.80 566.17 L339.33 565.84 L339.87 565.51 L340.40 565.18 L340.94 564.85 L341.48 564.52 L342.02 564.19 L342.56 563.86 L343.10 563.53 L343.64 563.20 L344.18 562.87 L344.72 562.54 L345.25 562.21 L345.79 561.88 L346.33 561.55 L346.86 561.23 L347.39 560.90 L347.92 560.57 L348.45 560.25 L348.98 559.92 L349.50 559.60" stroke="#ff00ff" stroke-width="1.55" stroke-dasharray="7.4 2.2 1.7 2.4"/>
<path d="M65.00 726.80 L65.60 726.80 L66.21 726.80 L66.82 726.80 L67.43 726.79 L68.04 726.79 L68.65 726.79 L69.27 726.79 L69.89 726.79 L70.51 726.79 L71.13 726.79 L71.75 726.79 L72.38 726.78 L73.00 726.78 L73.63 726.78 L74.26 726.78 L74.89 726.78 L75.52 726.78 L76.16 726.78 L76.79 726.78 L77.43 726.77 L78.07 726.77 L78.71 726.77 L79.35 726.77 L79.99 726.77 L80.63 726.77 L81.27 726.77 L81.92 726.77 L82.56 726.77 L83.21 726.77 L83.86 726.76 L84.50 726.76 L85.15 726.76 L85.80 726.76 L86.45 726.76 L87.10 726.76 L87.75 726.76 L88.40 726.76 L89.06 726.76 L89.71 726.76 L90.36 726.75 L91.01 726.75 L91.67 726.75 L92.32 726.75 L92.97 726.75 L93.63 726.75 L94.28 726.75 L94.94 726.75 L95.59 726.75 L96.24 726.75 L96.90 726.74 L97.55 726.74 L98.21 726.74 L98.86 726.74 L99.51 726.74 L100.16 726.74 L100.82 726.74 L101.47 726.74 L102.12 726.74 L102.77 726.74 L103.42 726.73 L104.07 726.73 L104.72 726.73 L105.37 726.73 L106.02 726.73 L106.66 726.73 L107.31 726.73 L107.95 726.73 L108.60 726.73 L109.24 726.73 L109.88 726.72 L110.53 726.72 L111.17 726.72 L111.81 726.72 L112.44 726.72 L113.08 726.72 L113.71 726.72 L114.35 726.72 L114.98 726.72 L115.61 726.71 L116.24 726.71 L116.87 726.71 L117.50 726.71 L118.12 726.71 L118.74 726.71 L119.37 726.71 L119.98 726.71 L120.60 726.70 L121.22 726.70 L121.83 726.70 L122.44 726.70 L123.06 726.70 L123.66 726.70 L124.27 726.70 L124.87 726.70 L125.48 726.69 L126.07 726.69 L126.67 726.69 L127.27 726.69 L127.86 726.69 L128.45 726.69 L129.04 726.68 L129.62 726.68 L130.20 726.68 L130.79 726.68 L131.36 726.68 L131.94 726.68 L132.51 726.67 L133.08 726.67 L133.64 726.67 L134.21 726.67 L134.77 726.67 L135.33 726.67 L135.88 726.66 L136.43 726.66 L136.98 726.66 L137.53 726.66 L138.07 726.66 L138.61 726.65 L139.14 726.65 L139.68 726.65 L140.20 726.65 L140.73 726.65 L141.25 726.64 L141.77 726.64 L142.28 726.64 L142.80 726.64 L143.30 726.64 L143.81 726.63 L144.31 726.63 L144.80 726.63 L145.30 726.63 L145.79 726.62 L146.27 726.62 L146.75 726.62 L147.23 726.62 L147.70 726.61 L148.17 726.61 L148.63 726.61 L149.09 726.61 L149.55 726.60 L150.00 726.60 L150.75 726.60 L151.49 726.59 L152.22 726.59 L152.95 726.58 L153.67 726.58 L154.38 726.58 L155.09 726.57 L155.79 726.57 L156.48 726.57 L157.16 726.57 L157.84 726.56 L158.51 726.56 L159.18 726.56 L159.84 726.56 L160.49 726.55 L161.14 726.55 L161.77 726.55 L162.41 726.55 L163.04 726.54 L163.66 726.54 L164.27 726.54 L164.88 726.53 L165.49 726.53 L166.09 726.53 L166.68 726.52 L167.27 726.52 L167.85 726.52 L168.43 726.51 L169.00 726.51 L169.57 726.50 L170.13 726.50 L170.69 726.49 L171.24 726.49 L171.79 726.48 L172.34 726.47 L172.87 726.46 L173.41 726.46 L173.94 726.45 L174.47 726.44 L174.99 726.43 L175.51 726.42 L176.02 726.41 L176.53 726.40 L177.04 726.39 L177.54 726.37 L178.04 726.36 L178.53 726.35 L179.03 726.33 L179.51 726.32 L180.00 726.30 L180.74 726.28 L181.46 726.25 L182.17 726.24 L182.87 726.22 L183.56 726.20 L184.23 726.18 L184.90 726.17 L185.55 726.15 L186.19 726.13 L186.82 726.11 L187.45 726.09 L188.06 726.06 L188.66 726.03 L189.25 726.00 L189.84 725.96 L190.41 725.91 L190.98 725.86 L191.54 725.81 L192.09 725.74 L192.63 725.67 L193.17 725.59 L193.70 725.50 L194.37 725.37 L195.02 725.23 L195.66 725.07 L196.29 724.90 L196.89 724.72 L197.49 724.53 L198.07 724.34 L198.64 724.14 L199.19 723.95 L199.74 723.75 L200.27 723.56 L200.79 723.38 L201.30 723.20 L201.93 722.99 L202.55 722.78 L203.15 722.58 L203.73 722.38 L204.29 722.18 L204.82 721.96 L205.33 721.74 L205.80 721.50 L206.46 721.13 L207.04 720.74 L207.58 720.31 L208.10 719.80 L208.46 719.39 L208.81 718.94 L209.15 718.45 L209.47 717.94 L209.77 717.39 L210.05 716.81 L210.30 716.20 L210.48 715.67 L210.63 715.11 L210.76 714.52 L210.87 713.91 L210.97 713.28 L211.06 712.63 L211.15 711.98 L211.23 711.32 L211.31 710.67 L211.40 710.03 L211.50 709.40 L211.60 708.78 L211.70 708.17 L211.79 707.56 L211.89 706.95 L211.98 706.34 L212.08 705.72 L212.17 705.11 L212.27 704.49 L212.37 703.87 L212.48 703.24 L212.60 702.60 L212.71 702.01 L212.82 701.42 L212.94 700.82 L213.06 700.23 L213.18 699.62 L213.30 699.02 L213.43 698.41 L213.56 697.80 L213.70 697.18 L213.84 696.57 L213.99 695.95 L214.14 695.32 L214.30 694.70 L214.46 694.10 L214.62 693.50 L214.79 692.88 L214.97 692.25 L215.15 691.62 L215.33 690.99 L215.52 690.35 L215.71 689.72 L215.91 689.10 L216.10 688.48 L216.30 687.87 L216.50 687.28 L216.70 686.70 L216.90 686.14 L217.10 685.60 L217.34 684.98 L217.58 684.39 L217.82 683.83 L218.06 683.28 L218.30 682.74 L218.55 682.21 L218.81 681.67 L219.06 681.13 L219.33 680.57 L219.60 680.00 L219.86 679.45 L220.13 678.89 L220.41 678.33 L220.69 677.76 L220.97 677.19 L221.26 676.62 L221.55 676.04 L221.85 675.45 L222.14 674.87 L222.43 674.28 L222.72 673.69 L223.00 673.10 L223.27 672.53 L223.54 671.95 L223.81 671.37 L224.08 670.79 L224.35 670.21 L224.62 669.62 L224.89 669.03 L225.16 668.44 L225.42 667.85 L225.69 667.26 L225.96 666.67 L226.23 666.09 L226.50 665.50 L227.45 663.83 L229.45 660.73 L231.45 657.77 L233.45 654.93 L235.45 652.20 L237.45 649.56 L239.45 647.01 L241.45 644.54 L243.45 642.14 L245.45 639.80 L247.45 637.53 L249.45 635.31 L251.45 633.15 L253.45 631.03 L255.45 628.96 L257.45 626.93 L259.45 624.94 L261.45 622.99 L263.45 621.08 L265.45 619.20 L267.45 617.35 L269.45 615.53 L271.45 613.74 L273.45 611.98 L275.45 610.24 L277.45 608.53 L279.45 606.85 L281.45 605.19 L283.45 603.55 L285.45 601.93 L287.45 600.33 L289.45 598.75 L291.45 597.19 L293.45 595.65 L295.45 594.13 L297.45 592.63 L299.45 591.14 L301.45 589.66 L303.45 588.21 L305.45 586.77 L307.45 585.34 L309.45 583.93 L311.45 582.53 L313.45 581.14 L315.45 579.77 L317.45 578.41 L319.45 577.06 L321.45 575.72 L323.45 574.40 L325.45 573.09 L327.45 571.78 L329.45 570.49 L331.45 569.21 L333.45 567.94 L335.45 566.68 L337.45 565.43 L339.45 564.19 L341.45 562.96 L343.45 561.74 L345.45 560.53 L347.45 559.32 L349.45 558.12 L349.45 558.12" stroke="#ff8c00" stroke-width="1.5" stroke-dasharray="1.1 1.0"/>
<path d="M65.45 726.88 L67.45 726.88 L69.45 726.88 L71.45 726.87 L73.45 726.87 L75.45 726.87 L77.45 726.86 L79.45 726.86 L81.45 726.86 L83.45 726.85 L85.45 726.85 L87.45 726.84 L89.45 726.84 L91.45 726.84 L93.45 726.83 L95.45 726.83 L97.45 726.82 L99.45 726.82 L101.45 726.81 L103.45 726.81 L105.45 726.80 L107.45 726.80 L109.45 726.79 L111.45 726.78 L113.45 726.78 L115.45 726.77 L117.45 726.77 L119.45 726.76 L121.45 726.75 L123.45 726.74 L125.45 726.74 L127.45 726.73 L129.45 726.72 L131.45 726.71 L133.45 726.71 L135.45 726.70 L137.45 726.69 L139.45 726.68 L141.45 726.67 L143.45 726.66 L145.45 726.65 L147.45 726.63 L149.45 726.62 L151.45 726.61 L153.45 726.60 L155.45 726.58 L157.45 726.57 L159.45 726.55 L161.45 726.53 L163.45 726.51 L165.45 726.49 L167.45 726.47 L169.45 726.45 L171.45 726.43 L173.45 726.40 L175.45 726.37 L177.45 726.34 L179.45 726.30 L181.45 726.26 L183.45 726.22 L185.45 726.17 L187.45 726.11 L189.45 726.04 L191.45 725.96 L193.45 725.87 L195.45 725.75 L197.45 725.60 L197.85 725.56 L198.25 725.52 L198.65 725.48 L199.05 725.44 L199.45 725.39 L199.85 725.34 L200.25 725.29 L200.65 725.23 L201.05 725.16 L201.45 725.09 L201.85 725.01 L202.25 724.92 L202.65 724.83 L203.05 724.72 L203.45 724.59 L203.85 724.44 L204.25 724.27 L204.65 724.07 L205.05 723.82 L205.45 723.50 L205.85 723.08 L206.25 722.52 L206.65 721.69 L207.05 720.41 L207.45 718.48 L207.85 716.00 L208.25 713.44 L208.65 711.06 L209.05 708.89 L209.45 706.90 L209.85 705.07 L210.25 703.36 L210.65 701.76 L211.05 700.25 L211.45 698.81 L211.85 697.45 L212.25 696.13 L212.65 694.88 L213.05 693.66 L213.45 692.49 L213.85 691.36 L214.25 690.26 L214.65 689.19 L215.05 688.15 L215.45 687.14 L215.85 686.15 L216.25 685.18 L216.65 684.24 L217.05 683.31 L217.45 682.41 L217.85 681.52 L218.25 680.65 L218.65 679.80 L219.05 678.96 L219.45 678.13 L221.45 674.19 L223.45 670.53 L225.45 667.09 L227.45 663.83 L229.45 660.73 L231.45 657.77 L233.45 654.93 L235.45 652.20 L237.45 649.56 L239.45 647.01 L241.45 644.54 L243.45 642.14 L245.45 639.80 L247.45 637.53 L249.45 635.31 L251.45 633.15 L253.45 631.03 L255.45 628.96 L257.45 626.93 L259.45 624.94 L261.45 622.99 L263.45 621.08 L265.45 619.20 L267.45 617.35 L269.45 615.53 L271.45 613.74 L273.45 611.98 L275.45 610.24 L277.45 608.53 L279.45 606.85 L281.45 605.19 L283.45 603.55 L285.45 601.93 L287.45 600.33 L289.45 598.75 L291.45 597.19 L293.45 595.65 L295.45 594.13 L297.45 592.63 L299.45 591.14 L301.45 589.66 L303.45 588.21 L305.45 586.77 L307.45 585.34 L309.45 583.93 L311.45 582.53 L313.45 581.14 L315.45 579.77 L317.45 578.41 L319.45 577.06 L321.45 575.72 L323.45 574.40 L325.45 573.09 L327.45 571.78 L329.45 570.49 L331.45 569.21 L333.45 567.94 L335.45 566.68 L337.45 565.43 L339.45 564.19 L341.45 562.96 L343.45 561.74 L345.45 560.53 L347.45 559.32 L349.45 558.12 L349.45 558.12" stroke="#000000" stroke-width="1.4" stroke-dasharray="3.3 1.5"/>
</g>
<g stroke="#000" stroke-width="1" fill="none" shape-rendering="auto">
<path d="M65.20 8.58 V727.85"/>
<path d="M349.45 8.58 V727.85"/>
<path d="M64.70 9.08 H349.95"/>
<path d="M64.70 248.40 H349.95"/>
<path d="M64.70 487.90 H349.95"/>
<path d="M64.70 727.35 H349.95"/>
<path d="M136.45 9.08 v5.00"/>
<path d="M136.45 243.40 v10.00"/>
<path d="M136.45 482.90 v10.00"/>
<path d="M136.45 722.35 v5.00"/>
<path d="M207.45 9.08 v5.00"/>
<path d="M207.45 243.40 v10.00"/>
<path d="M207.45 482.90 v10.00"/>
<path d="M207.45 722.35 v5.00"/>
<path d="M278.45 9.08 v5.00"/>
<path d="M278.45 243.40 v10.00"/>
<path d="M278.45 482.90 v10.00"/>
<path d="M278.45 722.35 v5.00"/>
<path d="M65.20 188.57 h5.30"/>
<path d="M349.45 188.57 h-5.00"/>
<path d="M65.20 128.74 h5.30"/>
<path d="M349.45 128.74 h-5.00"/>
<path d="M65.20 68.91 h5.30"/>
<path d="M349.45 68.91 h-5.00"/>
<path d="M65.20 428.07 h5.30"/>
<path d="M349.45 428.07 h-5.00"/>
<path d="M65.20 368.24 h5.30"/>
<path d="M349.45 368.24 h-5.00"/>
<path d="M65.20 308.41 h5.30"/>
<path d="M349.45 308.41 h-5.00"/>
<path d="M65.20 667.52 h5.30"/>
<path d="M349.45 667.52 h-5.00"/>
<path d="M65.20 607.69 h5.30"/>
<path d="M349.45 607.69 h-5.00"/>
<path d="M65.20 547.86 h5.30"/>
<path d="M349.45 547.86 h-5.00"/>
</g>
<text transform="translate(44.70 16.50) scale(0.915 1)" font-size="23.60" class="s" text-anchor="start">2</text>
<text transform="translate(31.90 76.11) scale(0.915 1)" font-size="23.60" class="s" text-anchor="start">1.5</text>
<text transform="translate(47.80 135.94) scale(0.915 1)" font-size="23.60" class="s" text-anchor="start">1</text>
<text transform="translate(31.90 195.77) scale(0.915 1)" font-size="23.60" class="s" text-anchor="start">0.5</text>
<text transform="translate(45.30 255.20) scale(0.915 1)" font-size="23.60" class="s" text-anchor="start">0</text>
<text transform="translate(31.90 315.61) scale(0.915 1)" font-size="23.60" class="s" text-anchor="start">1.5</text>
<text transform="translate(47.80 375.44) scale(0.915 1)" font-size="23.60" class="s" text-anchor="start">1</text>
<text transform="translate(31.90 435.27) scale(0.915 1)" font-size="23.60" class="s" text-anchor="start">0.5</text>
<text transform="translate(45.30 494.70) scale(0.915 1)" font-size="23.60" class="s" text-anchor="start">0</text>
<text transform="translate(31.90 555.06) scale(0.915 1)" font-size="23.60" class="s" text-anchor="start">1.5</text>
<text transform="translate(47.80 614.89) scale(0.915 1)" font-size="23.60" class="s" text-anchor="start">1</text>
<text transform="translate(31.90 674.72) scale(0.915 1)" font-size="23.60" class="s" text-anchor="start">0.5</text>
<text transform="translate(45.30 734.15) scale(0.915 1)" font-size="23.60" class="s" text-anchor="start">0</text>
<text transform="translate(64.75 745.70) scale(0.915 1)" font-size="23.60" class="s" text-anchor="middle">-2</text>
<text transform="translate(135.75 745.70) scale(0.915 1)" font-size="23.60" class="s" text-anchor="middle">-1</text>
<text transform="translate(206.75 745.70) scale(0.915 1)" font-size="23.60" class="s" text-anchor="middle">0</text>
<text transform="translate(277.75 745.70) scale(0.915 1)" font-size="23.60" class="s" text-anchor="middle">1</text>
<text transform="translate(348.75 745.70) scale(0.915 1)" font-size="23.60" class="s" text-anchor="middle">2</text>
<path d="M71.3 26.40 H100.6" fill="none" stroke="#ff0000" stroke-width="1.2"/>
<text x="102.70" y="32.00" font-size="19.00" class="i">r</text>
<text x="110.30" y="36.50" font-size="13.00">e</text>
<text x="116.30" y="32.00" font-size="19.00" class="i">k</text>
<text x="125.50" y="36.50" font-size="13.00">F</text>
<text x="132.20" y="32.00" font-size="19.50">=</text>
<text x="149.10" y="32.00" font-size="19.50">-0.034</text>
<text x="204.80" y="32.00" font-size="19.50">(g<tspan dy="4.6" font-size="14.00">r</tspan><tspan dy="-4.6">=10)</tspan></text>
<path d="M210.80 22.30 C212.64 18.53 214.47 19.83 215.90 21.00 S219.47 22.95 221.00 19.50" fill="none" stroke="#000" stroke-width="0.95" stroke-linecap="round"/>
<path d="M71.3 43.80 H100.6" fill="none" stroke="#0000ff" stroke-width="1.3" stroke-dasharray="6.8 1.6" stroke-dashoffset="1.2"/>
<text x="102.70" y="49.60" font-size="19.00" class="i">r</text>
<text x="110.30" y="54.10" font-size="13.00">e</text>
<text x="116.30" y="49.60" font-size="19.00" class="i">k</text>
<text x="125.50" y="54.10" font-size="13.00">F</text>
<text x="132.20" y="49.60" font-size="19.50">=</text>
<text x="149.10" y="49.60" font-size="19.50">-3.40</text>
<text x="204.80" y="49.60" font-size="19.50">(g<tspan dy="4.6" font-size="14.00">r</tspan><tspan dy="-4.6">=1)</tspan></text>
<path d="M210.80 39.90 C212.64 36.13 214.47 37.43 215.90 38.60 S219.47 40.55 221.00 37.10" fill="none" stroke="#000" stroke-width="0.95" stroke-linecap="round"/>
<path d="M71.3 63.30 H100.6" fill="none" stroke="#ff00ff" stroke-width="1.3" stroke-dasharray="4.3 1.6 1 1.6"/>
<text x="102.70" y="68.80" font-size="19.00" class="i">r</text>
<text x="110.30" y="73.30" font-size="13.00">e</text>
<text x="116.30" y="68.80" font-size="19.00" class="i">k</text>
<text x="125.50" y="73.30" font-size="13.00">F</text>
<text x="132.20" y="68.80" font-size="19.50">=</text>
<text x="149.10" y="68.80" font-size="19.50">-13.6</text>
<text x="204.80" y="68.80" font-size="19.50">(g<tspan dy="4.6" font-size="14.00">r</tspan><tspan dy="-4.6">=0.5)</tspan></text>
<path d="M210.80 59.10 C212.64 55.33 214.47 56.63 215.90 57.80 S219.47 59.75 221.00 56.30" fill="none" stroke="#000" stroke-width="0.95" stroke-linecap="round"/>
<path d="M71.3 82.30 H100.6" fill="none" stroke="#ff8c00" stroke-width="1.2" stroke-dasharray="1.0 0.7"/>
<text x="102.70" y="87.70" font-size="19.00" class="i">r</text>
<text x="110.30" y="92.20" font-size="13.00">e</text>
<text x="116.30" y="87.70" font-size="19.00" class="i">k</text>
<text x="125.50" y="92.20" font-size="13.00">F</text>
<text x="132.20" y="87.70" font-size="19.50">=</text>
<text x="149.10" y="87.70" font-size="19.50">-340</text>
<text x="204.80" y="87.70" font-size="19.50">(g<tspan dy="4.6" font-size="14.00">r</tspan><tspan dy="-4.6">=0.1)</tspan></text>
<path d="M210.80 78.00 C212.64 74.23 214.47 75.53 215.90 76.70 S219.47 78.65 221.00 75.20" fill="none" stroke="#000" stroke-width="0.95" stroke-linecap="round"/>
<path d="M71.3 101.80 H100.6" fill="none" stroke="#000000" stroke-width="1.2" stroke-dasharray="2.6 1.2"/>
<text x="102.70" y="108.30" font-size="19.00" class="i">r</text>
<text x="110.30" y="112.80" font-size="13.00">e</text>
<text x="116.30" y="108.30" font-size="19.00" class="i">k</text>
<text x="125.50" y="112.80" font-size="13.00">F</text>
<text x="132.20" y="108.30" font-size="19.50">=</text>
<text x="149.10" y="108.30" font-size="19.50">-3.40×10</text>
<text x="220.20" y="99.70" font-size="13.80">4</text>
<text x="101.40" y="127.10" font-size="19.50">(g<tspan dy="4.6" font-size="14.00">r</tspan><tspan dy="-4.6">=0.01)</tspan></text>
<path d="M107.40 117.40 C109.24 113.63 111.07 114.93 112.50 116.10 S116.07 118.05 117.60 114.60" fill="none" stroke="#000" stroke-width="0.95" stroke-linecap="round"/>
<text x="224.90" y="241.60" font-size="22.00" textLength="44.00" lengthAdjust="spacingAndGlyphs">(a)1/</text>
<text x="269.20" y="241.60" font-size="22.00" class="i">k</text>
<text x="279.20" y="245.00" font-size="14.50">F</text>
<text x="285.50" y="241.60" font-size="22.00" class="i">a</text>
<text x="296.90" y="241.60" font-size="22.00">=-0.5</text>
<text x="66.80" y="271.30" font-size="22.00" textLength="44.00" lengthAdjust="spacingAndGlyphs">(b)1/</text>
<text x="111.10" y="271.30" font-size="22.00" class="i">k</text>
<text x="121.10" y="274.70" font-size="14.50">F</text>
<text x="127.40" y="271.30" font-size="22.00" class="i">a</text>
<text x="138.80" y="271.30" font-size="22.00">=0</text>
<text x="66.80" y="511.60" font-size="22.00" textLength="44.00" lengthAdjust="spacingAndGlyphs">(c)1/</text>
<text x="111.10" y="511.60" font-size="22.00" class="i">k</text>
<text x="121.10" y="515.00" font-size="14.50">F</text>
<text x="127.40" y="511.60" font-size="22.00" class="i">a</text>
<text x="138.80" y="511.60" font-size="22.00">=0.5</text>
<text x="183.30" y="768.50" font-size="29.50" class="i">ω</text>
<text transform="translate(202.9 768.7) scale(1.3 1)" font-size="29.5">/</text>
<text x="212.40" y="768.50" font-size="29.50" class="i">ε</text>
<text x="223.30" y="774.30" font-size="18.00">F</text>
<g transform="translate(21.0 431.0) rotate(-90)">
<text x="2.00" y="0.00" font-size="29.50" class="i">ρ</text>
<text x="17.20" y="0.00" font-size="29.50">(</text>
<text x="26.80" y="0.00" font-size="29.50" class="i">ω</text>
<text x="48.20" y="0.00" font-size="29.50">)</text>
<text x="58.20" y="0.00" font-size="29.50">/</text>
<text x="66.00" y="0.00" font-size="29.50" class="i">ρ</text>
<text x="81.20" y="5.80" font-size="18.50">0</text>
<text x="90.80" y="0.00" font-size="29.50">(</text>
<text x="100.40" y="0.00" font-size="29.50">0</text>
<text x="115.30" y="0.00" font-size="29.50">)</text>
</g>
</svg>
</body></html>
